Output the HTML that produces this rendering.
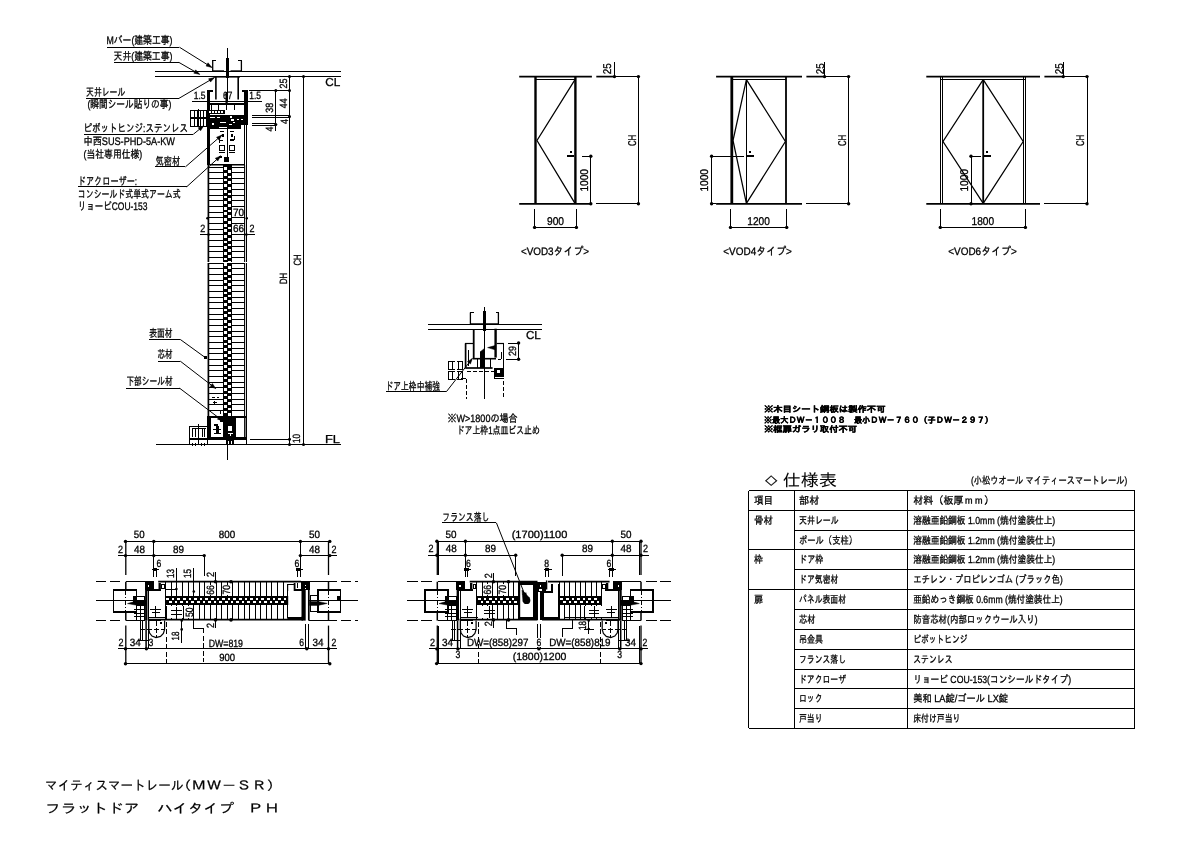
<!DOCTYPE html>
<html lang="ja">
<head>
<meta charset="utf-8">
<title>マイティスマートレール(MW-SR) フラットドア ハイタイプ PH</title>
<style>html,body{margin:0;padding:0;background:#fff}body{width:1191px;height:842px;overflow:hidden}svg{display:block;will-change:transform}</style>
</head>
<body>
<svg width="1191" height="842" viewBox="0 0 1191 842" font-family='"Liberation Sans","IPAGothic",sans-serif' fill="#000" stroke="#000" stroke-width="1" shape-rendering="crispEdges" text-rendering="geometricPrecision">
<style>text{stroke:#000;stroke-width:0.3px;fill:#000}</style>
<line x1="748.5" y1="490.6" x2="1134.5" y2="490.6" stroke-width="1"/>
<line x1="748.5" y1="728.2" x2="1134.5" y2="728.2" stroke-width="1"/>
<line x1="748.5" y1="490.6" x2="748.5" y2="728.2" stroke-width="1"/>
<line x1="1134.5" y1="490.6" x2="1134.5" y2="728.2" stroke-width="1"/>
<line x1="794.7" y1="490.6" x2="794.7" y2="728.2" stroke-width="1"/>
<line x1="907.7" y1="490.6" x2="907.7" y2="728.2" stroke-width="1"/>
<line x1="748.5" y1="510.3" x2="1134.5" y2="510.3" stroke-width="1"/>
<line x1="794.7" y1="530.3" x2="1134.5" y2="530.3" stroke-width="1"/>
<line x1="748.5" y1="549.7" x2="1134.5" y2="549.7" stroke-width="1"/>
<line x1="794.7" y1="569.4" x2="1134.5" y2="569.4" stroke-width="1"/>
<line x1="748.5" y1="589.3" x2="1134.5" y2="589.3" stroke-width="1"/>
<line x1="794.7" y1="609.2" x2="1134.5" y2="609.2" stroke-width="1"/>
<line x1="794.7" y1="629.1" x2="1134.5" y2="629.1" stroke-width="1"/>
<line x1="794.7" y1="649.4" x2="1134.5" y2="649.4" stroke-width="1"/>
<line x1="794.7" y1="669.3" x2="1134.5" y2="669.3" stroke-width="1"/>
<line x1="794.7" y1="688.7" x2="1134.5" y2="688.7" stroke-width="1"/>
<line x1="794.7" y1="708.4" x2="1134.5" y2="708.4" stroke-width="1"/>
<text x="754" y="504" font-size="10.3" textLength="19" lengthAdjust="spacingAndGlyphs">項目</text>
<text x="799" y="504" font-size="10.3" textLength="20.5" lengthAdjust="spacingAndGlyphs">部材</text>
<text x="913.2" y="504" font-size="10.3" textLength="80.8" lengthAdjust="spacingAndGlyphs">材料（板厚ｍｍ）</text>
<text x="754" y="523.7" font-size="10.3" textLength="19" lengthAdjust="spacingAndGlyphs">骨材</text>
<text x="799" y="523.7" font-size="10.3" textLength="39.7" lengthAdjust="spacingAndGlyphs">天井レール</text>
<text x="913.2" y="523.7" font-size="10.3" textLength="142.1" lengthAdjust="spacingAndGlyphs">溶融亜鉛鋼板 1.0mm (焼付塗装仕上)</text>
<text x="799" y="543.7" font-size="10.3" textLength="58" lengthAdjust="spacingAndGlyphs">ポール（支柱）</text>
<text x="913.2" y="543.7" font-size="10.3" textLength="142.1" lengthAdjust="spacingAndGlyphs">溶融亜鉛鋼板 1.2mm (焼付塗装仕上)</text>
<text x="754" y="563.1" font-size="10.3" textLength="9" lengthAdjust="spacingAndGlyphs">枠</text>
<text x="799" y="563.1" font-size="10.3" textLength="24.5" lengthAdjust="spacingAndGlyphs">ドア枠</text>
<text x="913.2" y="563.1" font-size="10.3" textLength="142.1" lengthAdjust="spacingAndGlyphs">溶融亜鉛鋼板 1.2mm (焼付塗装仕上)</text>
<text x="799" y="582.8" font-size="10.3" textLength="39.5" lengthAdjust="spacingAndGlyphs">ドア気密材</text>
<text x="913.2" y="582.8" font-size="10.3" textLength="149.5" lengthAdjust="spacingAndGlyphs">エチレン・プロピレンゴム (ブラック色)</text>
<text x="754" y="602.7" font-size="10.3" textLength="9" lengthAdjust="spacingAndGlyphs">扉</text>
<text x="799" y="602.7" font-size="10.3" textLength="47" lengthAdjust="spacingAndGlyphs">パネル表面材</text>
<text x="913.2" y="602.7" font-size="10.3" textLength="149.5" lengthAdjust="spacingAndGlyphs">亜鉛めっき鋼板 0.6mm (焼付塗装仕上)</text>
<text x="799" y="622.6" font-size="10.3" textLength="16.5" lengthAdjust="spacingAndGlyphs">芯材</text>
<text x="913.2" y="622.6" font-size="10.3" textLength="124.3" lengthAdjust="spacingAndGlyphs">防音芯材(内部ロックウール入り)</text>
<text x="799" y="642.5" font-size="10.3" textLength="24" lengthAdjust="spacingAndGlyphs">吊金具</text>
<text x="913.2" y="642.5" font-size="10.3" textLength="54.4" lengthAdjust="spacingAndGlyphs">ピボットヒンジ</text>
<text x="799" y="662.8" font-size="10.3" textLength="47" lengthAdjust="spacingAndGlyphs">フランス落し</text>
<text x="913.2" y="662.8" font-size="10.3" textLength="39.3" lengthAdjust="spacingAndGlyphs">ステンレス</text>
<text x="799" y="682.7" font-size="10.3" textLength="47" lengthAdjust="spacingAndGlyphs">ドアクローザ</text>
<text x="913.2" y="682.7" font-size="10.3" textLength="157.9" lengthAdjust="spacingAndGlyphs">リョービ COU-153(コンシールドタイプ)</text>
<text x="799" y="702.1" font-size="10.3" textLength="23.5" lengthAdjust="spacingAndGlyphs">ロック</text>
<text x="913.2" y="702.1" font-size="10.3" textLength="94.9" lengthAdjust="spacingAndGlyphs">美和 LA錠/ゴール LX錠</text>
<text x="799" y="721.8" font-size="10.3" textLength="23.5" lengthAdjust="spacingAndGlyphs">戸当り</text>
<text x="913.2" y="721.8" font-size="10.3" textLength="47.3" lengthAdjust="spacingAndGlyphs">床付け戸当り</text>
<text x="764.4" y="484.6" font-size="11.5" textLength="13.4" lengthAdjust="spacingAndGlyphs" style="stroke-width:0.2px">◇</text>
<text x="782.8" y="485.7" font-size="16.5" textLength="54.2" lengthAdjust="spacingAndGlyphs" style="stroke-width:0.05px">仕様表</text>
<text x="970.9" y="483.8" font-size="10.3" textLength="156.4" lengthAdjust="spacingAndGlyphs">(小松ウオール マイティースマートレール)</text>
<text x="763.9" y="412.2" font-size="8.2" textLength="121.7" lengthAdjust="spacingAndGlyphs" font-weight="bold">※木目シート鋼板は製作不可</text>
<text x="763.9" y="422.7" font-size="8.2" textLength="229.1" lengthAdjust="spacingAndGlyphs" font-weight="bold">※最大ＤＷ－１００８　最小ＤＷ－７６０（子ＤＷ－２９７）</text>
<text x="763.9" y="432.3" font-size="8.2" textLength="93.2" lengthAdjust="spacingAndGlyphs" font-weight="bold">※框扉ガラリ取付不可</text>
<text x="45.1" y="790.2" font-size="13" textLength="138.4" lengthAdjust="spacingAndGlyphs" style="stroke-width:0.2px">マイティスマートレール</text>
<text x="176.3" y="790.2" font-size="12.5" textLength="105.5" lengthAdjust="spacingAndGlyphs" style="stroke-width:0.2px">（ＭＷ－ＳＲ）</text>
<text x="45.1" y="813.4" font-size="13" textLength="94.4" lengthAdjust="spacingAndGlyphs" style="stroke-width:0.2px">フラットドア</text>
<text x="157.2" y="813.4" font-size="13" textLength="76.8" lengthAdjust="spacingAndGlyphs" style="stroke-width:0.2px">ハイタイプ</text>
<text x="247.3" y="813.4" font-size="12.5" textLength="32.7" lengthAdjust="spacingAndGlyphs" style="stroke-width:0.2px">ＰＨ</text>
<line x1="519.2" y1="76.6" x2="591.9" y2="76.6" stroke-width="1.7" shape-rendering="geometricPrecision"/>
<line x1="519.2" y1="203.8" x2="591.9" y2="203.8" stroke-width="1.7" shape-rendering="geometricPrecision"/>
<line x1="596.3" y1="76.6" x2="614.5" y2="76.6" stroke-width="1.7" shape-rendering="geometricPrecision"/>
<line x1="614.5" y1="76.6" x2="638.4" y2="76.6" stroke-width="1"/>
<line x1="596.3" y1="203.8" x2="638.4" y2="203.8" stroke-width="1"/>
<line x1="638.4" y1="76.6" x2="638.4" y2="203.8" stroke-width="1"/>
<circle cx="638.4" cy="76.6" r="1.7" fill="#000" stroke="none" shape-rendering="geometricPrecision"/>
<circle cx="638.4" cy="203.8" r="1.7" fill="#000" stroke="none" shape-rendering="geometricPrecision"/>
<line x1="614.5" y1="62.4" x2="614.5" y2="76.6" stroke-width="1"/>
<circle cx="614.5" cy="76.6" r="1.7" fill="#000" stroke="none" shape-rendering="geometricPrecision"/>
<text x="610.77" y="68.8" font-size="11.3" textLength="11" lengthAdjust="spacingAndGlyphs" text-anchor="middle" transform="rotate(-90 610.77 68.8)">25</text>
<text x="635.87" y="140.4" font-size="11.3" textLength="11.2" lengthAdjust="spacingAndGlyphs" text-anchor="middle" transform="rotate(-90 635.87 140.4)">CH</text>
<text x="520.9" y="255.2" font-size="10.8" textLength="68.2" lengthAdjust="spacingAndGlyphs">&lt;VOD3タイプ&gt;</text>
<line x1="535.5" y1="76.8" x2="535.5" y2="203.8" stroke-width="2.4" shape-rendering="geometricPrecision"/>
<line x1="575.4" y1="76.8" x2="575.4" y2="203.8" stroke-width="2.4" shape-rendering="geometricPrecision"/>
<line x1="535.5" y1="79.4" x2="575.4" y2="79.4" stroke-width="1"/>
<path d="M575 79.6 L537 140.5 L575 203.4" fill="none" stroke-width="1.25" shape-rendering="geometricPrecision"/>
<line x1="590.8" y1="156.3" x2="590.8" y2="203.8" stroke-width="1"/>
<line x1="582.3" y1="156.3" x2="590.8" y2="156.3" stroke-width="1"/>
<circle cx="590.8" cy="156.3" r="1.7" fill="#000" stroke="none" shape-rendering="geometricPrecision"/>
<circle cx="590.8" cy="203.8" r="1.7" fill="#000" stroke="none" shape-rendering="geometricPrecision"/>
<text x="587.87" y="180.3" font-size="11.3" textLength="22.6" lengthAdjust="spacingAndGlyphs" text-anchor="middle" transform="rotate(-90 587.87 180.3)">1000</text>
<rect x="566.6" y="155.3" width="7.4" height="2" fill="#000" stroke="none"/>
<rect x="570.4" y="151.3" width="1.8" height="1.8" fill="#000" stroke="none"/>
<line x1="534.6" y1="209" x2="534.6" y2="229" stroke-width="1"/>
<line x1="576.4" y1="209" x2="576.4" y2="229" stroke-width="1"/>
<line x1="534.6" y1="227.4" x2="576.4" y2="227.4" stroke-width="1"/>
<circle cx="534.6" cy="227.4" r="1.7" fill="#000" stroke="none" shape-rendering="geometricPrecision"/>
<circle cx="576.4" cy="227.4" r="1.7" fill="#000" stroke="none" shape-rendering="geometricPrecision"/>
<text x="546.95" y="224.8" font-size="11.3" textLength="17.1" lengthAdjust="spacingAndGlyphs">900</text>
<line x1="716.1" y1="76.6" x2="802" y2="76.6" stroke-width="1.7" shape-rendering="geometricPrecision"/>
<line x1="716.1" y1="203.8" x2="802" y2="203.8" stroke-width="1.7" shape-rendering="geometricPrecision"/>
<line x1="806.4" y1="76.6" x2="824.6" y2="76.6" stroke-width="1.7" shape-rendering="geometricPrecision"/>
<line x1="824.6" y1="76.6" x2="848.6" y2="76.6" stroke-width="1"/>
<line x1="806.4" y1="203.8" x2="848.6" y2="203.8" stroke-width="1"/>
<line x1="848.6" y1="76.6" x2="848.6" y2="203.8" stroke-width="1"/>
<circle cx="848.6" cy="76.6" r="1.7" fill="#000" stroke="none" shape-rendering="geometricPrecision"/>
<circle cx="848.6" cy="203.8" r="1.7" fill="#000" stroke="none" shape-rendering="geometricPrecision"/>
<line x1="824.6" y1="62.4" x2="824.6" y2="76.6" stroke-width="1"/>
<circle cx="824.6" cy="76.6" r="1.7" fill="#000" stroke="none" shape-rendering="geometricPrecision"/>
<text x="823.87" y="68.8" font-size="11.3" textLength="11" lengthAdjust="spacingAndGlyphs" text-anchor="middle" transform="rotate(-90 823.87 68.8)">25</text>
<text x="846.07" y="140.4" font-size="11.3" textLength="11.2" lengthAdjust="spacingAndGlyphs" text-anchor="middle" transform="rotate(-90 846.07 140.4)">CH</text>
<text x="723.3" y="255.2" font-size="10.8" textLength="68.6" lengthAdjust="spacingAndGlyphs">&lt;VOD4タイプ&gt;</text>
<line x1="731.8" y1="76.8" x2="731.8" y2="203.8" stroke-width="2.8" shape-rendering="geometricPrecision"/>
<line x1="786" y1="76.8" x2="786" y2="203.8" stroke-width="1.8" shape-rendering="geometricPrecision"/>
<line x1="746.4" y1="79.4" x2="746.4" y2="203.8" stroke-width="1"/>
<line x1="731.8" y1="79.4" x2="786" y2="79.4" stroke-width="1"/>
<path d="M746.4 79.6 L733 140.5 L746.4 203.4" fill="none" stroke-width="1.25" shape-rendering="geometricPrecision"/>
<path d="M746.4 79.6 L785.4 141.5 L746.4 203.4" fill="none" stroke-width="1.25" shape-rendering="geometricPrecision"/>
<line x1="711.6" y1="156.3" x2="711.6" y2="203.8" stroke-width="1"/>
<line x1="711.6" y1="156.3" x2="743.6" y2="156.3" stroke-width="1"/>
<line x1="711.6" y1="203.8" x2="716.1" y2="203.8" stroke-width="1"/>
<circle cx="711.6" cy="156.3" r="1.7" fill="#000" stroke="none" shape-rendering="geometricPrecision"/>
<circle cx="711.6" cy="203.8" r="1.7" fill="#000" stroke="none" shape-rendering="geometricPrecision"/>
<text x="708.47" y="180.3" font-size="11.3" textLength="22.6" lengthAdjust="spacingAndGlyphs" text-anchor="middle" transform="rotate(-90 708.47 180.3)">1000</text>
<rect x="746.4" y="155.3" width="7.4" height="2" fill="#000" stroke="none"/>
<rect x="749.3" y="151.3" width="1.8" height="1.8" fill="#000" stroke="none"/>
<line x1="730.5" y1="209" x2="730.5" y2="229" stroke-width="1"/>
<line x1="786.7" y1="209" x2="786.7" y2="229" stroke-width="1"/>
<line x1="730.5" y1="227.4" x2="786.7" y2="227.4" stroke-width="1"/>
<circle cx="730.5" cy="227.4" r="1.7" fill="#000" stroke="none" shape-rendering="geometricPrecision"/>
<circle cx="786.7" cy="227.4" r="1.7" fill="#000" stroke="none" shape-rendering="geometricPrecision"/>
<text x="747.3" y="224.8" font-size="11.3" textLength="22.6" lengthAdjust="spacingAndGlyphs">1200</text>
<line x1="926.3" y1="76.6" x2="1040" y2="76.6" stroke-width="1.7" shape-rendering="geometricPrecision"/>
<line x1="926.3" y1="203.8" x2="1040" y2="203.8" stroke-width="1.7" shape-rendering="geometricPrecision"/>
<line x1="1044.4" y1="76.6" x2="1063.3" y2="76.6" stroke-width="1.7" shape-rendering="geometricPrecision"/>
<line x1="1063.3" y1="76.6" x2="1087" y2="76.6" stroke-width="1"/>
<line x1="1044.4" y1="203.8" x2="1087" y2="203.8" stroke-width="1"/>
<line x1="1087" y1="76.6" x2="1087" y2="203.8" stroke-width="1"/>
<circle cx="1087" cy="76.6" r="1.7" fill="#000" stroke="none" shape-rendering="geometricPrecision"/>
<circle cx="1087" cy="203.8" r="1.7" fill="#000" stroke="none" shape-rendering="geometricPrecision"/>
<line x1="1063.3" y1="62.4" x2="1063.3" y2="76.6" stroke-width="1"/>
<circle cx="1063.3" cy="76.6" r="1.7" fill="#000" stroke="none" shape-rendering="geometricPrecision"/>
<text x="1062.57" y="68.8" font-size="11.3" textLength="11" lengthAdjust="spacingAndGlyphs" text-anchor="middle" transform="rotate(-90 1062.57 68.8)">25</text>
<text x="1084.47" y="140.4" font-size="11.3" textLength="11.2" lengthAdjust="spacingAndGlyphs" text-anchor="middle" transform="rotate(-90 1084.47 140.4)">CH</text>
<text x="948.2" y="255.2" font-size="10.8" textLength="68.7" lengthAdjust="spacingAndGlyphs">&lt;VOD6タイプ&gt;</text>
<line x1="940.4" y1="76.8" x2="940.4" y2="203.8" stroke-width="1"/>
<line x1="942.7" y1="76.8" x2="942.7" y2="203.8" stroke-width="1"/>
<line x1="1023.4" y1="76.8" x2="1023.4" y2="203.8" stroke-width="1"/>
<line x1="1025.6" y1="76.8" x2="1025.6" y2="203.8" stroke-width="1"/>
<line x1="983.2" y1="79.4" x2="983.2" y2="203.8" stroke-width="1.8" shape-rendering="geometricPrecision"/>
<line x1="940.4" y1="79.4" x2="1025.6" y2="79.4" stroke-width="1"/>
<path d="M983.2 79.6 L943 141.5 L983.2 203.4" fill="none" stroke-width="1.25" shape-rendering="geometricPrecision"/>
<path d="M983.2 79.6 L1023.2 141.5 L983.2 203.4" fill="none" stroke-width="1.25" shape-rendering="geometricPrecision"/>
<line x1="971" y1="156.3" x2="971" y2="203.8" stroke-width="1"/>
<line x1="971" y1="156.3" x2="981" y2="156.3" stroke-width="1"/>
<circle cx="971" cy="156.3" r="1.7" fill="#000" stroke="none" shape-rendering="geometricPrecision"/>
<circle cx="971" cy="203.8" r="1.7" fill="#000" stroke="none" shape-rendering="geometricPrecision"/>
<text x="968.47" y="180.3" font-size="11.3" textLength="22.6" lengthAdjust="spacingAndGlyphs" text-anchor="middle" transform="rotate(-90 968.47 180.3)">1000</text>
<rect x="983.4" y="155.3" width="7.4" height="2" fill="#000" stroke="none"/>
<rect x="986.3" y="151.3" width="1.8" height="1.8" fill="#000" stroke="none"/>
<line x1="940.3" y1="209" x2="940.3" y2="229" stroke-width="1"/>
<line x1="1025.4" y1="209" x2="1025.4" y2="229" stroke-width="1"/>
<line x1="940.3" y1="227.4" x2="1025.4" y2="227.4" stroke-width="1"/>
<circle cx="940.3" cy="227.4" r="1.7" fill="#000" stroke="none" shape-rendering="geometricPrecision"/>
<circle cx="1025.4" cy="227.4" r="1.7" fill="#000" stroke="none" shape-rendering="geometricPrecision"/>
<text x="971.55" y="224.8" font-size="11.3" textLength="22.6" lengthAdjust="spacingAndGlyphs">1800</text>
<line x1="155.4" y1="71.6" x2="341" y2="71.6" stroke-width="1"/>
<line x1="155.4" y1="76.4" x2="341" y2="76.4" stroke-width="1"/>
<text x="325.2" y="86.1" font-size="11.5" textLength="15" lengthAdjust="spacingAndGlyphs">CL</text>
<line x1="156.4" y1="444.4" x2="340.6" y2="444.4" stroke-width="1"/>
<text x="325" y="442.6" font-size="11.5" textLength="15" lengthAdjust="spacingAndGlyphs">FL</text>
<line x1="212.7" y1="60.7" x2="212.7" y2="71.6" stroke-width="1.3" shape-rendering="geometricPrecision"/>
<line x1="212.2" y1="60.9" x2="215.8" y2="60.9" stroke-width="1"/>
<line x1="241.4" y1="60.7" x2="241.4" y2="71.6" stroke-width="1.3" shape-rendering="geometricPrecision"/>
<line x1="238.4" y1="60.9" x2="242" y2="60.9" stroke-width="1"/>
<line x1="213" y1="70.9" x2="224" y2="70.9" stroke-width="1.2" shape-rendering="geometricPrecision"/>
<line x1="230.5" y1="70.9" x2="241.4" y2="70.9" stroke-width="1.2" shape-rendering="geometricPrecision"/>
<line x1="227.3" y1="48.3" x2="227.3" y2="101" stroke-width="1"/>
<rect x="225.6" y="57.5" width="3.4" height="20.5" fill="#000" stroke="none"/>
<line x1="215.9" y1="76.4" x2="215.9" y2="99.5" stroke-width="1.6" shape-rendering="geometricPrecision"/>
<line x1="238.2" y1="76.4" x2="238.2" y2="99.5" stroke-width="1.6" shape-rendering="geometricPrecision"/>
<line x1="214" y1="77" x2="240" y2="77" stroke-width="1.2" shape-rendering="geometricPrecision"/>
<rect x="207.2" y="90.3" width="3.2" height="75" fill="#000" stroke="none"/>
<rect x="244.2" y="90.3" width="3.6" height="34.5" fill="#000" stroke="none"/>
<rect x="207.2" y="90.3" width="5.5" height="1.4" fill="#000" stroke="none"/>
<rect x="242" y="90.3" width="5.8" height="1.4" fill="#000" stroke="none"/>
<line x1="191.8" y1="101.8" x2="261.7" y2="101.8" stroke-width="1"/>
<circle cx="208.6" cy="101.8" r="1.3" fill="#000" stroke="none" shape-rendering="geometricPrecision"/>
<circle cx="246" cy="101.8" r="1.3" fill="#000" stroke="none" shape-rendering="geometricPrecision"/>
<text x="193.7" y="99.3" font-size="10.5" textLength="11.8" lengthAdjust="spacingAndGlyphs">1.5</text>
<text x="249.3" y="99.3" font-size="10.5" textLength="11.7" lengthAdjust="spacingAndGlyphs">1.5</text>
<text x="223.1" y="99.3" font-size="10.5" textLength="9.2" lengthAdjust="spacingAndGlyphs">67</text>
<line x1="226.6" y1="92" x2="226.6" y2="103.5" stroke-width="2.2" shape-rendering="geometricPrecision"/>
<line x1="208" y1="103.5" x2="246" y2="103.5" stroke-width="1"/>
<line x1="210" y1="104.8" x2="244.5" y2="104.8" stroke-width="1"/>
<line x1="211" y1="104.8" x2="211" y2="110" stroke-width="1"/>
<line x1="218.7" y1="104.8" x2="218.7" y2="110" stroke-width="1"/>
<line x1="226.2" y1="104.8" x2="226.2" y2="110" stroke-width="1"/>
<line x1="234.2" y1="104.8" x2="234.2" y2="110" stroke-width="1"/>
<rect x="190.6" y="110.4" width="16" height="7.2" fill="none" stroke-width="1"/>
<rect x="190.6" y="118.4" width="16" height="7.6" fill="none" stroke-width="1"/>
<line x1="194.5" y1="110.4" x2="194.5" y2="126" stroke-width="1"/>
<line x1="197.5" y1="110.4" x2="197.5" y2="126" stroke-width="1"/>
<line x1="200.8" y1="110.4" x2="200.8" y2="126" stroke-width="1"/>
<line x1="203.5" y1="110.4" x2="203.5" y2="126" stroke-width="1"/>
<line x1="198.5" y1="108.5" x2="198.5" y2="127" stroke-width="1"/>
<rect x="208" y="110.2" width="16.5" height="4.2" fill="#000" stroke="none"/>
<rect x="209.3" y="111.4" width="2" height="1.5" fill="#fff" stroke="none"/>
<rect x="212.3" y="111.4" width="2" height="1.5" fill="#fff" stroke="none"/>
<rect x="215.3" y="111.4" width="2" height="1.5" fill="#fff" stroke="none"/>
<rect x="218.3" y="111.4" width="2" height="1.5" fill="#fff" stroke="none"/>
<rect x="221.3" y="111.4" width="2" height="1.5" fill="#fff" stroke="none"/>
<rect x="208" y="114.6" width="40" height="9.8" fill="#000" stroke="none"/>
<rect x="208" y="124" width="33" height="4.8" fill="#000" stroke="none"/>
<rect x="210" y="117" width="5" height="1" fill="#fff" stroke="none"/>
<rect x="216.5" y="117" width="3" height="1" fill="#fff" stroke="none"/>
<rect x="229.5" y="115.8" width="2" height="2" fill="#fff" stroke="none"/>
<rect x="231" y="119.2" width="3" height="1.4" fill="#fff" stroke="none"/>
<rect x="237.3" y="118.8" width="2" height="1.6" fill="#fff" stroke="none"/>
<rect x="240.6" y="119" width="2.6" height="1" fill="#fff" stroke="none"/>
<rect x="211.5" y="122.5" width="2.4" height="2" fill="#fff" stroke="none"/>
<rect x="215" y="125.5" width="7" height="0.9" fill="#fff" stroke="none"/>
<rect x="220" y="121.6" width="6" height="0.9" fill="#fff" stroke="none"/>
<rect x="228.5" y="124" width="3" height="1" fill="#fff" stroke="none"/>
<rect x="232.5" y="121.5" width="2" height="1.2" fill="#fff" stroke="none"/>
<rect x="219" y="127" width="8" height="0.8" fill="#fff" stroke="none"/>
<line x1="246.8" y1="124.6" x2="246.8" y2="444.4" stroke-width="1"/>
<line x1="244.2" y1="124.8" x2="244.2" y2="165" stroke-width="1"/>
<line x1="240.5" y1="124.6" x2="247" y2="124.6" stroke-width="1"/>
<line x1="227.2" y1="128" x2="227.2" y2="160" stroke-width="1"/>
<rect x="219.3" y="145.2" width="5" height="5.2" fill="none" stroke-width="1.2"/>
<rect x="229.6" y="145.2" width="5" height="5.2" fill="none" stroke-width="1.2"/>
<rect x="220" y="130.5" width="4" height="1.4" fill="#000" stroke="none"/>
<rect x="230" y="130.5" width="4" height="1.4" fill="#000" stroke="none"/>
<rect x="221.5" y="134" width="2" height="3" fill="#000" stroke="none"/>
<rect x="231" y="133.5" width="2.4" height="3" fill="#000" stroke="none"/>
<rect x="220.4" y="139.5" width="3" height="1.6" fill="#000" stroke="none"/>
<rect x="230.4" y="138.6" width="3.4" height="2.2" fill="#000" stroke="none"/>
<rect x="219" y="152.2" width="6" height="1" fill="#000" stroke="none"/>
<rect x="229" y="152.2" width="6" height="1" fill="#000" stroke="none"/>
<rect x="233.6" y="136" width="1.4" height="4" fill="#000" stroke="none"/>
<rect x="218.6" y="138" width="1.3" height="5" fill="#000" stroke="none"/>
<rect x="223.6" y="156.6" width="5.6" height="5" fill="#000" stroke="none"/>
<rect x="218.6" y="155.6" width="3.4" height="2.6" fill="#000" stroke="none"/>
<line x1="210" y1="164.7" x2="244.4" y2="164.7" stroke-width="1.4" shape-rendering="geometricPrecision"/>
<line x1="208.4" y1="165" x2="208.4" y2="417" stroke-width="1.7" shape-rendering="geometricPrecision"/>
<line x1="244.6" y1="165" x2="244.6" y2="417" stroke-width="1.1" shape-rendering="geometricPrecision"/>
<line x1="209" y1="167" x2="244.6" y2="167" stroke-width="1"/>
<line x1="209" y1="172.66" x2="244.6" y2="172.66" stroke-width="1"/>
<line x1="209" y1="178.32" x2="244.6" y2="178.32" stroke-width="1"/>
<line x1="209" y1="183.98" x2="244.6" y2="183.98" stroke-width="1"/>
<line x1="209" y1="189.64" x2="244.6" y2="189.64" stroke-width="1"/>
<line x1="209" y1="195.3" x2="244.6" y2="195.3" stroke-width="1"/>
<line x1="209" y1="200.96" x2="244.6" y2="200.96" stroke-width="1"/>
<line x1="209" y1="206.62" x2="244.6" y2="206.62" stroke-width="1"/>
<line x1="209" y1="212.28" x2="244.6" y2="212.28" stroke-width="1"/>
<line x1="209" y1="217.94" x2="244.6" y2="217.94" stroke-width="1"/>
<line x1="209" y1="223.6" x2="244.6" y2="223.6" stroke-width="1"/>
<line x1="209" y1="229.26" x2="244.6" y2="229.26" stroke-width="1"/>
<line x1="209" y1="234.92" x2="244.6" y2="234.92" stroke-width="1"/>
<line x1="209" y1="240.58" x2="244.6" y2="240.58" stroke-width="1"/>
<line x1="209" y1="246.24" x2="244.6" y2="246.24" stroke-width="1"/>
<line x1="209" y1="251.9" x2="244.6" y2="251.9" stroke-width="1"/>
<line x1="209" y1="257.56" x2="244.6" y2="257.56" stroke-width="1"/>
<line x1="209" y1="263.22" x2="244.6" y2="263.22" stroke-width="1"/>
<line x1="209" y1="268.88" x2="244.6" y2="268.88" stroke-width="1"/>
<line x1="209" y1="274.54" x2="244.6" y2="274.54" stroke-width="1"/>
<line x1="209" y1="280.2" x2="244.6" y2="280.2" stroke-width="1"/>
<line x1="209" y1="285.86" x2="244.6" y2="285.86" stroke-width="1"/>
<line x1="209" y1="291.52" x2="244.6" y2="291.52" stroke-width="1"/>
<line x1="209" y1="297.18" x2="244.6" y2="297.18" stroke-width="1"/>
<line x1="209" y1="302.84" x2="244.6" y2="302.84" stroke-width="1"/>
<line x1="209" y1="308.5" x2="244.6" y2="308.5" stroke-width="1"/>
<line x1="209" y1="314.16" x2="244.6" y2="314.16" stroke-width="1"/>
<line x1="209" y1="319.82" x2="244.6" y2="319.82" stroke-width="1"/>
<line x1="209" y1="325.48" x2="244.6" y2="325.48" stroke-width="1"/>
<line x1="209" y1="331.14" x2="244.6" y2="331.14" stroke-width="1"/>
<line x1="209" y1="336.8" x2="244.6" y2="336.8" stroke-width="1"/>
<line x1="209" y1="342.46" x2="244.6" y2="342.46" stroke-width="1"/>
<line x1="209" y1="348.12" x2="244.6" y2="348.12" stroke-width="1"/>
<line x1="209" y1="353.78" x2="244.6" y2="353.78" stroke-width="1"/>
<line x1="209" y1="359.44" x2="244.6" y2="359.44" stroke-width="1"/>
<line x1="209" y1="365.1" x2="244.6" y2="365.1" stroke-width="1"/>
<line x1="209" y1="370.76" x2="244.6" y2="370.76" stroke-width="1"/>
<line x1="209" y1="376.42" x2="244.6" y2="376.42" stroke-width="1"/>
<line x1="209" y1="382.08" x2="244.6" y2="382.08" stroke-width="1"/>
<line x1="209" y1="387.74" x2="244.6" y2="387.74" stroke-width="1"/>
<line x1="209" y1="393.4" x2="244.6" y2="393.4" stroke-width="1"/>
<line x1="209" y1="399.06" x2="244.6" y2="399.06" stroke-width="1"/>
<line x1="209" y1="404.72" x2="244.6" y2="404.72" stroke-width="1"/>
<line x1="209" y1="410.38" x2="244.6" y2="410.38" stroke-width="1"/>
<rect x="222.6" y="165.4" width="9.4" height="252" fill="#000" stroke="none"/>
<rect x="223.8" y="167.2" width="2.7" height="2.7" fill="#fff" stroke="none"/>
<rect x="228.1" y="170" width="2.7" height="2.7" fill="#fff" stroke="none"/>
<rect x="223.8" y="172.86" width="2.7" height="2.7" fill="#fff" stroke="none"/>
<rect x="228.1" y="175.66" width="2.7" height="2.7" fill="#fff" stroke="none"/>
<rect x="223.8" y="178.52" width="2.7" height="2.7" fill="#fff" stroke="none"/>
<rect x="228.1" y="181.32" width="2.7" height="2.7" fill="#fff" stroke="none"/>
<rect x="223.8" y="184.18" width="2.7" height="2.7" fill="#fff" stroke="none"/>
<rect x="228.1" y="186.98" width="2.7" height="2.7" fill="#fff" stroke="none"/>
<rect x="223.8" y="189.84" width="2.7" height="2.7" fill="#fff" stroke="none"/>
<rect x="228.1" y="192.64" width="2.7" height="2.7" fill="#fff" stroke="none"/>
<rect x="223.8" y="195.5" width="2.7" height="2.7" fill="#fff" stroke="none"/>
<rect x="228.1" y="198.3" width="2.7" height="2.7" fill="#fff" stroke="none"/>
<rect x="223.8" y="201.16" width="2.7" height="2.7" fill="#fff" stroke="none"/>
<rect x="228.1" y="203.96" width="2.7" height="2.7" fill="#fff" stroke="none"/>
<rect x="223.8" y="206.82" width="2.7" height="2.7" fill="#fff" stroke="none"/>
<rect x="228.1" y="209.62" width="2.7" height="2.7" fill="#fff" stroke="none"/>
<rect x="223.8" y="212.48" width="2.7" height="2.7" fill="#fff" stroke="none"/>
<rect x="228.1" y="215.28" width="2.7" height="2.7" fill="#fff" stroke="none"/>
<rect x="223.8" y="218.14" width="2.7" height="2.7" fill="#fff" stroke="none"/>
<rect x="228.1" y="220.94" width="2.7" height="2.7" fill="#fff" stroke="none"/>
<rect x="223.8" y="223.8" width="2.7" height="2.7" fill="#fff" stroke="none"/>
<rect x="228.1" y="226.6" width="2.7" height="2.7" fill="#fff" stroke="none"/>
<rect x="223.8" y="229.46" width="2.7" height="2.7" fill="#fff" stroke="none"/>
<rect x="228.1" y="232.26" width="2.7" height="2.7" fill="#fff" stroke="none"/>
<rect x="223.8" y="235.12" width="2.7" height="2.7" fill="#fff" stroke="none"/>
<rect x="228.1" y="237.92" width="2.7" height="2.7" fill="#fff" stroke="none"/>
<rect x="223.8" y="240.78" width="2.7" height="2.7" fill="#fff" stroke="none"/>
<rect x="228.1" y="243.58" width="2.7" height="2.7" fill="#fff" stroke="none"/>
<rect x="223.8" y="246.44" width="2.7" height="2.7" fill="#fff" stroke="none"/>
<rect x="228.1" y="249.24" width="2.7" height="2.7" fill="#fff" stroke="none"/>
<rect x="223.8" y="252.1" width="2.7" height="2.7" fill="#fff" stroke="none"/>
<rect x="228.1" y="254.9" width="2.7" height="2.7" fill="#fff" stroke="none"/>
<rect x="223.8" y="257.76" width="2.7" height="2.7" fill="#fff" stroke="none"/>
<rect x="228.1" y="260.56" width="2.7" height="2.7" fill="#fff" stroke="none"/>
<rect x="223.8" y="263.42" width="2.7" height="2.7" fill="#fff" stroke="none"/>
<rect x="228.1" y="266.22" width="2.7" height="2.7" fill="#fff" stroke="none"/>
<rect x="223.8" y="269.08" width="2.7" height="2.7" fill="#fff" stroke="none"/>
<rect x="228.1" y="271.88" width="2.7" height="2.7" fill="#fff" stroke="none"/>
<rect x="223.8" y="274.74" width="2.7" height="2.7" fill="#fff" stroke="none"/>
<rect x="228.1" y="277.54" width="2.7" height="2.7" fill="#fff" stroke="none"/>
<rect x="223.8" y="280.4" width="2.7" height="2.7" fill="#fff" stroke="none"/>
<rect x="228.1" y="283.2" width="2.7" height="2.7" fill="#fff" stroke="none"/>
<rect x="223.8" y="286.06" width="2.7" height="2.7" fill="#fff" stroke="none"/>
<rect x="228.1" y="288.86" width="2.7" height="2.7" fill="#fff" stroke="none"/>
<rect x="223.8" y="291.72" width="2.7" height="2.7" fill="#fff" stroke="none"/>
<rect x="228.1" y="294.52" width="2.7" height="2.7" fill="#fff" stroke="none"/>
<rect x="223.8" y="297.38" width="2.7" height="2.7" fill="#fff" stroke="none"/>
<rect x="228.1" y="300.18" width="2.7" height="2.7" fill="#fff" stroke="none"/>
<rect x="223.8" y="303.04" width="2.7" height="2.7" fill="#fff" stroke="none"/>
<rect x="228.1" y="305.84" width="2.7" height="2.7" fill="#fff" stroke="none"/>
<rect x="223.8" y="308.7" width="2.7" height="2.7" fill="#fff" stroke="none"/>
<rect x="228.1" y="311.5" width="2.7" height="2.7" fill="#fff" stroke="none"/>
<rect x="223.8" y="314.36" width="2.7" height="2.7" fill="#fff" stroke="none"/>
<rect x="228.1" y="317.16" width="2.7" height="2.7" fill="#fff" stroke="none"/>
<rect x="223.8" y="320.02" width="2.7" height="2.7" fill="#fff" stroke="none"/>
<rect x="228.1" y="322.82" width="2.7" height="2.7" fill="#fff" stroke="none"/>
<rect x="223.8" y="325.68" width="2.7" height="2.7" fill="#fff" stroke="none"/>
<rect x="228.1" y="328.48" width="2.7" height="2.7" fill="#fff" stroke="none"/>
<rect x="223.8" y="331.34" width="2.7" height="2.7" fill="#fff" stroke="none"/>
<rect x="228.1" y="334.14" width="2.7" height="2.7" fill="#fff" stroke="none"/>
<rect x="223.8" y="337" width="2.7" height="2.7" fill="#fff" stroke="none"/>
<rect x="228.1" y="339.8" width="2.7" height="2.7" fill="#fff" stroke="none"/>
<rect x="223.8" y="342.66" width="2.7" height="2.7" fill="#fff" stroke="none"/>
<rect x="228.1" y="345.46" width="2.7" height="2.7" fill="#fff" stroke="none"/>
<rect x="223.8" y="348.32" width="2.7" height="2.7" fill="#fff" stroke="none"/>
<rect x="228.1" y="351.12" width="2.7" height="2.7" fill="#fff" stroke="none"/>
<rect x="223.8" y="353.98" width="2.7" height="2.7" fill="#fff" stroke="none"/>
<rect x="228.1" y="356.78" width="2.7" height="2.7" fill="#fff" stroke="none"/>
<rect x="223.8" y="359.64" width="2.7" height="2.7" fill="#fff" stroke="none"/>
<rect x="228.1" y="362.44" width="2.7" height="2.7" fill="#fff" stroke="none"/>
<rect x="223.8" y="365.3" width="2.7" height="2.7" fill="#fff" stroke="none"/>
<rect x="228.1" y="368.1" width="2.7" height="2.7" fill="#fff" stroke="none"/>
<rect x="223.8" y="370.96" width="2.7" height="2.7" fill="#fff" stroke="none"/>
<rect x="228.1" y="373.76" width="2.7" height="2.7" fill="#fff" stroke="none"/>
<rect x="223.8" y="376.62" width="2.7" height="2.7" fill="#fff" stroke="none"/>
<rect x="228.1" y="379.42" width="2.7" height="2.7" fill="#fff" stroke="none"/>
<rect x="223.8" y="382.28" width="2.7" height="2.7" fill="#fff" stroke="none"/>
<rect x="228.1" y="385.08" width="2.7" height="2.7" fill="#fff" stroke="none"/>
<rect x="223.8" y="387.94" width="2.7" height="2.7" fill="#fff" stroke="none"/>
<rect x="228.1" y="390.74" width="2.7" height="2.7" fill="#fff" stroke="none"/>
<rect x="223.8" y="393.6" width="2.7" height="2.7" fill="#fff" stroke="none"/>
<rect x="228.1" y="396.4" width="2.7" height="2.7" fill="#fff" stroke="none"/>
<rect x="223.8" y="399.26" width="2.7" height="2.7" fill="#fff" stroke="none"/>
<rect x="228.1" y="402.06" width="2.7" height="2.7" fill="#fff" stroke="none"/>
<rect x="223.8" y="404.92" width="2.7" height="2.7" fill="#fff" stroke="none"/>
<rect x="228.1" y="407.72" width="2.7" height="2.7" fill="#fff" stroke="none"/>
<rect x="223.8" y="410.58" width="2.7" height="2.7" fill="#fff" stroke="none"/>
<rect x="228.1" y="413.38" width="2.7" height="2.7" fill="#fff" stroke="none"/>
<rect x="206" y="261.6" width="43" height="1.1" fill="#fff" stroke="none"/>
<rect x="232.4" y="208.4" width="11.6" height="8.6" fill="#fff" stroke="none"/>
<text x="232.9" y="216.3" font-size="10.5" textLength="11.1" lengthAdjust="spacingAndGlyphs">70</text>
<rect x="232.4" y="224.2" width="11.6" height="8.6" fill="#fff" stroke="none"/>
<text x="232.9" y="232" font-size="10.5" textLength="11.1" lengthAdjust="spacingAndGlyphs">66</text>
<circle cx="207.4" cy="218.2" r="1.2" fill="#000" stroke="none" shape-rendering="geometricPrecision"/>
<circle cx="246.8" cy="218.2" r="1.2" fill="#000" stroke="none" shape-rendering="geometricPrecision"/>
<line x1="199.6" y1="234.6" x2="208" y2="234.6" stroke-width="1"/>
<line x1="245" y1="234.6" x2="254.8" y2="234.6" stroke-width="1"/>
<circle cx="208.6" cy="234.6" r="1.3" fill="#000" stroke="none" shape-rendering="geometricPrecision"/>
<circle cx="246.4" cy="234.6" r="1.3" fill="#000" stroke="none" shape-rendering="geometricPrecision"/>
<text x="200.3" y="232" font-size="10.5" textLength="5" lengthAdjust="spacingAndGlyphs">2</text>
<text x="249.6" y="232" font-size="10.5" textLength="5" lengthAdjust="spacingAndGlyphs">2</text>
<line x1="212" y1="397.4" x2="219" y2="397.4" stroke-width="1" stroke-dasharray="3 1.5"/>
<line x1="213" y1="402.5" x2="216.6" y2="402.5" stroke-width="1"/>
<line x1="214.7" y1="400.8" x2="214.7" y2="404.4" stroke-width="1"/>
<line x1="220.5" y1="410" x2="220.5" y2="414" stroke-width="1"/>
<rect x="207.3" y="416.2" width="38.2" height="1.7" fill="#000" stroke="none"/>
<rect x="207.3" y="416.2" width="3.7" height="23.3" fill="#000" stroke="none"/>
<rect x="207.3" y="437" width="38.2" height="2.5" fill="#000" stroke="none"/>
<line x1="244.8" y1="416.2" x2="244.8" y2="439.5" stroke-width="1.4" shape-rendering="geometricPrecision"/>
<rect x="222.7" y="416.2" width="12.9" height="23.3" fill="#000" stroke="none"/>
<rect x="228.1" y="426" width="4.3" height="4.7" fill="#fff" stroke="none"/>
<rect x="228.4" y="433" width="4.6" height="0.9" fill="#fff" stroke="none"/>
<rect x="230.2" y="433" width="0.9" height="3" fill="#fff" stroke="none"/>
<rect x="214.4" y="424" width="3.2" height="2.4" fill="#000" stroke="none"/>
<rect x="215.6" y="425.6" width="3.4" height="7" fill="#000" stroke="none"/>
<rect x="213" y="428.8" width="8" height="1.1" fill="#000" stroke="none"/>
<rect x="214" y="432.6" width="6.6" height="1.1" fill="#000" stroke="none"/>
<rect x="220.4" y="418" width="2.4" height="3.6" fill="#000" stroke="none"/>
<rect x="218.6" y="419" width="2" height="1.4" fill="#000" stroke="none"/>
<line x1="227.6" y1="439.5" x2="227.6" y2="460" stroke-width="1"/>
<rect x="226.3" y="439.5" width="7.5" height="4.9" fill="#000" stroke="none"/>
<rect x="228.2" y="440.6" width="1.2" height="3" fill="#fff" stroke="none"/>
<rect x="231" y="440.6" width="1.2" height="3" fill="#fff" stroke="none"/>
<rect x="189.3" y="426.4" width="18" height="18" fill="none" stroke-width="1"/>
<line x1="189.3" y1="438.4" x2="207.3" y2="438.4" stroke-width="1"/>
<line x1="189.3" y1="439.6" x2="207.3" y2="439.6" stroke-width="1"/>
<line x1="192.8" y1="428.5" x2="192.8" y2="437.2" stroke-width="1"/>
<line x1="195.3" y1="428.5" x2="195.3" y2="437.2" stroke-width="1"/>
<line x1="202.4" y1="428.5" x2="202.4" y2="437.2" stroke-width="1"/>
<line x1="204.6" y1="428.5" x2="204.6" y2="437.2" stroke-width="1"/>
<line x1="191.6" y1="428.8" x2="206" y2="428.8" stroke-width="1"/>
<line x1="198.7" y1="424.2" x2="198.7" y2="444.4" stroke-width="1"/>
<line x1="192.2" y1="443.4" x2="192.2" y2="446" stroke-width="1"/>
<line x1="195" y1="443.4" x2="195" y2="446" stroke-width="1"/>
<line x1="201.8" y1="443.4" x2="201.8" y2="446" stroke-width="1"/>
<line x1="204" y1="443.4" x2="204" y2="446" stroke-width="1"/>
<line x1="289.5" y1="76.4" x2="289.5" y2="444.4" stroke-width="1"/>
<line x1="303.5" y1="76.4" x2="303.5" y2="444.4" stroke-width="1"/>
<line x1="275.8" y1="90.4" x2="275.8" y2="131.3" stroke-width="1"/>
<line x1="249.3" y1="90.4" x2="289.5" y2="90.4" stroke-width="1"/>
<line x1="251.9" y1="115.6" x2="289.5" y2="115.6" stroke-width="1"/>
<line x1="251.9" y1="117.4" x2="289.5" y2="117.4" stroke-width="1"/>
<line x1="251.9" y1="123.5" x2="275.8" y2="123.5" stroke-width="1"/>
<line x1="251.9" y1="125.4" x2="275.8" y2="125.4" stroke-width="1"/>
<line x1="250.3" y1="439.3" x2="289.5" y2="439.3" stroke-width="1"/>
<circle cx="289.5" cy="76.4" r="1.5" fill="#000" stroke="none" shape-rendering="geometricPrecision"/>
<circle cx="303.5" cy="76.4" r="1.5" fill="#000" stroke="none" shape-rendering="geometricPrecision"/>
<circle cx="289.5" cy="90.4" r="1.5" fill="#000" stroke="none" shape-rendering="geometricPrecision"/>
<circle cx="275.8" cy="90.4" r="1.5" fill="#000" stroke="none" shape-rendering="geometricPrecision"/>
<circle cx="289.5" cy="116.5" r="1.5" fill="#000" stroke="none" shape-rendering="geometricPrecision"/>
<circle cx="275.8" cy="124.5" r="1.5" fill="#000" stroke="none" shape-rendering="geometricPrecision"/>
<circle cx="289.5" cy="439.3" r="1.5" fill="#000" stroke="none" shape-rendering="geometricPrecision"/>
<circle cx="289.5" cy="444.4" r="1.5" fill="#000" stroke="none" shape-rendering="geometricPrecision"/>
<circle cx="303.5" cy="444.4" r="1.5" fill="#000" stroke="none" shape-rendering="geometricPrecision"/>
<text x="287.18" y="83.6" font-size="10.5" textLength="10" lengthAdjust="spacingAndGlyphs" text-anchor="middle" transform="rotate(-90 287.18 83.6)">25</text>
<text x="287.38" y="103.2" font-size="10.5" textLength="10" lengthAdjust="spacingAndGlyphs" text-anchor="middle" transform="rotate(-90 287.38 103.2)">44</text>
<text x="273.08" y="107.8" font-size="10.5" textLength="10" lengthAdjust="spacingAndGlyphs" text-anchor="middle" transform="rotate(-90 273.08 107.8)">38</text>
<text x="288.18" y="121.5" font-size="10.5" textLength="5" lengthAdjust="spacingAndGlyphs" text-anchor="middle" transform="rotate(-90 288.18 121.5)">4</text>
<text x="272.78" y="129" font-size="10.5" textLength="5" lengthAdjust="spacingAndGlyphs" text-anchor="middle" transform="rotate(-90 272.78 129)">4</text>
<text x="287.28" y="278.6" font-size="10.5" textLength="11" lengthAdjust="spacingAndGlyphs" text-anchor="middle" transform="rotate(-90 287.28 278.6)">DH</text>
<text x="300.98" y="260" font-size="10.5" textLength="11" lengthAdjust="spacingAndGlyphs" text-anchor="middle" transform="rotate(-90 300.98 260)">CH</text>
<text x="299.58" y="438.6" font-size="10.5" textLength="9" lengthAdjust="spacingAndGlyphs" text-anchor="middle" transform="rotate(-90 299.58 438.6)">10</text>
<text x="106.5" y="44.4" font-size="11" textLength="65.9" lengthAdjust="spacingAndGlyphs">Mバー(建築工事)</text>
<line x1="106.5" y1="47.2" x2="179.4" y2="47.2" stroke-width="1"/>
<line x1="179.4" y1="47.2" x2="211.8" y2="67.4" stroke-width="1" shape-rendering="geometricPrecision"/>
<path d="M211.8 67.4 L206.04 66.05 L208.05 62.82 Z" fill="#000" stroke-width="0.5" shape-rendering="geometricPrecision"/>
<text x="113.6" y="59.8" font-size="11" textLength="58.8" lengthAdjust="spacingAndGlyphs">天井(建築工事)</text>
<line x1="113.6" y1="62.4" x2="178.9" y2="62.4" stroke-width="1"/>
<line x1="178.9" y1="62.4" x2="199.6" y2="74.3" stroke-width="1" shape-rendering="geometricPrecision"/>
<path d="M199.6 74.3 L193.8 73.16 L195.69 69.86 Z" fill="#000" stroke-width="0.5" shape-rendering="geometricPrecision"/>
<text x="86.1" y="95.9" font-size="11" textLength="39.2" lengthAdjust="spacingAndGlyphs">天井レール</text>
<line x1="86.1" y1="98.4" x2="178.9" y2="98.4" stroke-width="1"/>
<line x1="178.9" y1="98.4" x2="214.4" y2="77.6" stroke-width="1" shape-rendering="geometricPrecision"/>
<path d="M214.4 77.6 L210.53 82.07 L208.61 78.79 Z" fill="#000" stroke-width="0.5" shape-rendering="geometricPrecision"/>
<text x="87.4" y="107.9" font-size="11" textLength="84" lengthAdjust="spacingAndGlyphs">(瞬間シール貼りの事)</text>
<text x="83.5" y="132.4" font-size="11" textLength="104.5" lengthAdjust="spacingAndGlyphs">ピボットヒンジ:ステンレス</text>
<line x1="83.5" y1="134.3" x2="193.3" y2="134.3" stroke-width="1"/>
<line x1="193.3" y1="134.3" x2="203.7" y2="125.8" stroke-width="1" shape-rendering="geometricPrecision"/>
<path d="M203.7 125.8 L200.57 130.82 L198.16 127.87 Z" fill="#000" stroke-width="0.5" shape-rendering="geometricPrecision"/>
<text x="83.5" y="145.4" font-size="11" textLength="91.5" lengthAdjust="spacingAndGlyphs">中西SUS-PHD-5A-KW</text>
<text x="83.5" y="158" font-size="11" textLength="58.8" lengthAdjust="spacingAndGlyphs">(当社専用仕様)</text>
<text x="155.4" y="164.5" font-size="11" textLength="24.8" lengthAdjust="spacingAndGlyphs">気密材</text>
<line x1="155.4" y1="166.9" x2="185.4" y2="166.9" stroke-width="1"/>
<line x1="185.4" y1="166.9" x2="222" y2="135" stroke-width="1" shape-rendering="geometricPrecision"/>
<path d="M222 135 L219.03 140.11 L216.53 137.25 Z" fill="#000" stroke-width="0.5" shape-rendering="geometricPrecision"/>
<text x="77.8" y="184.6" font-size="11" textLength="59.3" lengthAdjust="spacingAndGlyphs">ドアクローザー:</text>
<line x1="77.8" y1="186.8" x2="186.7" y2="186.8" stroke-width="1"/>
<line x1="186.7" y1="186.8" x2="220.7" y2="155.9" stroke-width="1" shape-rendering="geometricPrecision"/>
<path d="M220.7 155.9 L217.83 161.07 L215.28 158.26 Z" fill="#000" stroke-width="0.5" shape-rendering="geometricPrecision"/>
<text x="77.8" y="197.7" font-size="11" textLength="102.9" lengthAdjust="spacingAndGlyphs">コンシールド式単式アーム式</text>
<text x="77.8" y="210.2" font-size="11" textLength="69.7" lengthAdjust="spacingAndGlyphs">リョービCOU-153</text>
<text x="149.3" y="337.1" font-size="11" textLength="23.3" lengthAdjust="spacingAndGlyphs">表面材</text>
<line x1="149.3" y1="339.4" x2="180.2" y2="339.4" stroke-width="1"/>
<line x1="180.2" y1="339.4" x2="205.6" y2="357.8" stroke-width="1" shape-rendering="geometricPrecision"/>
<rect x="204" y="356.4" width="3" height="3" fill="#000" stroke="none"/>
<text x="157.5" y="358.4" font-size="11" textLength="15.1" lengthAdjust="spacingAndGlyphs">芯材</text>
<line x1="157.5" y1="361.1" x2="180.2" y2="361.1" stroke-width="1"/>
<line x1="180.2" y1="361.1" x2="215.7" y2="388.5" stroke-width="1" shape-rendering="geometricPrecision"/>
<path d="M215.7 388.5 L210.11 386.58 L212.43 383.57 Z" fill="#000" stroke-width="0.5" shape-rendering="geometricPrecision"/>
<text x="126.4" y="385.2" font-size="11" textLength="46.2" lengthAdjust="spacingAndGlyphs">下部シール材</text>
<line x1="126.4" y1="388.2" x2="179.6" y2="388.2" stroke-width="1"/>
<line x1="179.6" y1="388.2" x2="223" y2="421" stroke-width="1" shape-rendering="geometricPrecision"/>
<path d="M223 421 L217.39 419.14 L219.68 416.11 Z" fill="#000" stroke-width="0.5" shape-rendering="geometricPrecision"/>
<line x1="428.4" y1="324.6" x2="542.2" y2="324.6" stroke-width="1"/>
<line x1="428.4" y1="329.6" x2="542.2" y2="329.6" stroke-width="1"/>
<text x="525.9" y="339.2" font-size="11.5" textLength="14.8" lengthAdjust="spacingAndGlyphs">CL</text>
<line x1="470.4" y1="312.5" x2="470.4" y2="324.6" stroke-width="1.3" shape-rendering="geometricPrecision"/>
<line x1="470" y1="312.8" x2="474" y2="312.8" stroke-width="1"/>
<line x1="498.4" y1="312.5" x2="498.4" y2="324.6" stroke-width="1.3" shape-rendering="geometricPrecision"/>
<line x1="495.6" y1="312.8" x2="499" y2="312.8" stroke-width="1"/>
<line x1="470.4" y1="323.9" x2="498.4" y2="323.9" stroke-width="1.3" shape-rendering="geometricPrecision"/>
<line x1="484.6" y1="307.2" x2="484.6" y2="399" stroke-width="1"/>
<rect x="482.8" y="310.6" width="3.6" height="20.6" fill="#000" stroke="none"/>
<line x1="473.7" y1="329.6" x2="473.7" y2="358.6" stroke-width="1.8" shape-rendering="geometricPrecision"/>
<line x1="495.6" y1="328.7" x2="495.6" y2="357.6" stroke-width="2.4" shape-rendering="geometricPrecision"/>
<line x1="465.6" y1="343.4" x2="465.6" y2="368.6" stroke-width="1.7" shape-rendering="geometricPrecision"/>
<line x1="465" y1="343.5" x2="473" y2="343.5" stroke-width="1.2" shape-rendering="geometricPrecision"/>
<line x1="468" y1="350" x2="468" y2="366" stroke-width="1"/>
<line x1="503.6" y1="343.4" x2="503.6" y2="377.3" stroke-width="1"/>
<line x1="496.7" y1="343.5" x2="504" y2="343.5" stroke-width="1.2" shape-rendering="geometricPrecision"/>
<line x1="501.1" y1="351.7" x2="501.1" y2="359.2" stroke-width="1"/>
<line x1="498" y1="359.2" x2="501.4" y2="359.2" stroke-width="1"/>
<line x1="473" y1="358.7" x2="496" y2="358.7" stroke-width="1.6" shape-rendering="geometricPrecision"/>
<line x1="465.6" y1="368" x2="492.6" y2="368" stroke-width="1.7" shape-rendering="geometricPrecision"/>
<rect x="479.9" y="351.7" width="4.6" height="16.6" fill="#000" stroke="none"/>
<path d="M480 352 L484.4 348.5 L484.4 352 Z" fill="#000" stroke-width="0.5" shape-rendering="geometricPrecision"/>
<line x1="477.4" y1="358.6" x2="477.4" y2="368" stroke-width="1"/>
<line x1="490.5" y1="358.6" x2="490.5" y2="368" stroke-width="1"/>
<path d="M487.6 347.6 L495 345.6 L495 349.8 Z" fill="#000" stroke-width="0.5" shape-rendering="geometricPrecision"/>
<rect x="494.2" y="368" width="9.8" height="8.8" fill="#000" stroke="none"/>
<rect x="496.8" y="370.4" width="3.2" height="2.2" fill="#fff" stroke="none"/>
<line x1="494.2" y1="368" x2="494.2" y2="378.6" stroke-width="1"/>
<line x1="494.2" y1="378.6" x2="503.8" y2="378.6" stroke-width="1"/>
<line x1="518.6" y1="343" x2="518.6" y2="359.2" stroke-width="1"/>
<line x1="506.1" y1="359.2" x2="518.6" y2="359.2" stroke-width="1"/>
<line x1="508" y1="343" x2="518.6" y2="343" stroke-width="1"/>
<circle cx="518.6" cy="343" r="1.7" fill="#000" stroke="none" shape-rendering="geometricPrecision"/>
<circle cx="518.6" cy="359.2" r="1.7" fill="#000" stroke="none" shape-rendering="geometricPrecision"/>
<text x="515.78" y="350.9" font-size="10.5" textLength="10" lengthAdjust="spacingAndGlyphs" text-anchor="middle" transform="rotate(-90 515.78 350.9)">29</text>
<line x1="466.8" y1="371.3" x2="493.6" y2="371.3" stroke-width="1" stroke-dasharray="4 2"/>
<line x1="466.4" y1="378.6" x2="466.4" y2="399" stroke-width="1" stroke-dasharray="4 2"/>
<line x1="503.6" y1="381" x2="503.6" y2="399" stroke-width="1" stroke-dasharray="4 2"/>
<line x1="461" y1="378.8" x2="466.4" y2="378.8" stroke-width="1"/>
<rect x="448.6" y="361.8" width="14.2" height="7.4" fill="none" stroke-width="1"/>
<rect x="448.6" y="371.2" width="14.2" height="8.6" fill="none" stroke-width="1"/>
<line x1="452.5" y1="360.5" x2="452.5" y2="380" stroke-width="1"/>
<line x1="458.7" y1="360.5" x2="458.7" y2="380" stroke-width="1"/>
<rect x="455" y="360" width="2" height="22" fill="#fff" stroke="none"/>
<rect x="446" y="369.8" width="18" height="1" fill="#fff" stroke="none"/>
<text x="385.5" y="389.6" font-size="11" textLength="54.5" lengthAdjust="spacingAndGlyphs">ドア上枠中補強</text>
<line x1="385.5" y1="391.8" x2="446.3" y2="391.8" stroke-width="1"/>
<line x1="446.3" y1="391.8" x2="472.4" y2="358.4" stroke-width="1" shape-rendering="geometricPrecision"/>
<path d="M472.4 358.4 L470.45 363.98 L467.45 361.64 Z" fill="#000" stroke-width="0.5" shape-rendering="geometricPrecision"/>
<text x="447.4" y="421.9" font-size="10.6" textLength="70.2" lengthAdjust="spacingAndGlyphs">※W&gt;1800の場合</text>
<text x="456.7" y="433.9" font-size="10.6" textLength="83.1" lengthAdjust="spacingAndGlyphs">ドア上枠1点皿ビス止め</text>
<rect x="113.7" y="589.9" width="22.6" height="22.1" fill="none" stroke-width="1.6"/>
<line x1="125.8" y1="541.4" x2="125.8" y2="575" stroke-width="1.3" shape-rendering="geometricPrecision"/>
<line x1="125.8" y1="581.7" x2="125.8" y2="590" stroke-width="1.5" shape-rendering="geometricPrecision"/>
<line x1="125.8" y1="612" x2="125.8" y2="620.6" stroke-width="1.5" shape-rendering="geometricPrecision"/>
<line x1="125.8" y1="590" x2="125.8" y2="612" stroke-width="1" stroke-dasharray="5 2 1 2"/>
<line x1="125.8" y1="625.6" x2="125.8" y2="663.8" stroke-width="1.3" shape-rendering="geometricPrecision"/>
<line x1="95.9" y1="581.7" x2="123" y2="581.7" stroke-width="1" stroke-dasharray="10.5 3.5"/>
<line x1="126" y1="581.7" x2="145" y2="581.7" stroke-width="1"/>
<line x1="95.9" y1="620.6" x2="123" y2="620.6" stroke-width="1" stroke-dasharray="10.5 3.5"/>
<line x1="126" y1="620.6" x2="145" y2="620.6" stroke-width="1"/>
<line x1="95.9" y1="600.8" x2="146" y2="600.8" stroke-width="1"/>
<rect x="136.4" y="596" width="8.4" height="7" fill="none" stroke-width="1"/>
<rect x="133" y="596" width="4.4" height="7" fill="#000" stroke="none"/>
<path d="M127.5 603.6 L138 600.6 L146 600.6 L146 605.4 L138 605.4 Z" fill="#000" stroke-width="0.5" shape-rendering="geometricPrecision"/>
<rect x="136.4" y="605.4" width="8.4" height="14.6" fill="none" stroke-width="1"/>
<line x1="133.5" y1="609.5" x2="144.8" y2="609.5" stroke-width="1"/>
<line x1="133.5" y1="613.2" x2="144.8" y2="613.2" stroke-width="1"/>
<line x1="133.5" y1="616.6" x2="144.8" y2="616.6" stroke-width="1"/>
<line x1="140" y1="605" x2="140" y2="620" stroke-width="1"/>
<rect x="144.9" y="581.3" width="8.6" height="8.4" fill="#000" stroke="none"/>
<rect x="147.6" y="585.2" width="1.7" height="2" fill="#fff" stroke="none"/>
<line x1="146.3" y1="589" x2="146.3" y2="620.6" stroke-width="2.4" shape-rendering="geometricPrecision"/>
<line x1="146.1" y1="620.6" x2="146.1" y2="648.7" stroke-width="1.5" shape-rendering="geometricPrecision"/>
<line x1="148.8" y1="590" x2="148.8" y2="648.7" stroke-width="1"/>
<line x1="146" y1="590" x2="161.4" y2="590" stroke-width="2"/>
<line x1="159.7" y1="583" x2="159.7" y2="591" stroke-width="2.4" shape-rendering="geometricPrecision"/>
<rect x="161.6" y="584.2" width="2.8" height="4.4" fill="none" stroke-width="1"/>
<line x1="150" y1="609.2" x2="161" y2="609.2" stroke-width="1"/>
<line x1="152" y1="612.6" x2="160" y2="612.6" stroke-width="1"/>
<line x1="155.6" y1="605.5" x2="155.6" y2="617" stroke-width="1"/>
<line x1="149" y1="617.6" x2="166" y2="617.6" stroke-width="1"/>
<path d="M148.8 620.6 L148.8 629.5 L149.6 633 L152 636 L156 637.6 L160.5 636.4 L163.4 633.4 L164.6 629.5 L164.6 620.6" fill="none" stroke-width="1.2" shape-rendering="geometricPrecision"/>
<line x1="139.5" y1="629.4" x2="164" y2="629.4" stroke-width="1" stroke-dasharray="5 2"/>
<line x1="156.2" y1="621" x2="156.2" y2="637" stroke-width="1" stroke-dasharray="5 2"/>
<line x1="140.6" y1="620.6" x2="140.6" y2="640" stroke-width="1"/>
<line x1="142.8" y1="620.6" x2="142.8" y2="640" stroke-width="1"/>
<line x1="138" y1="640" x2="149" y2="640" stroke-width="1"/>
<rect x="159.5" y="621.6" width="2" height="2.4" fill="#000" stroke="none"/>
<rect x="149" y="619.4" width="12" height="2" fill="#000" stroke="none"/>
<line x1="166.8" y1="621.6" x2="166.8" y2="663" stroke-width="1" stroke-dasharray="5 2.5"/>
<rect x="317.9" y="589.9" width="22.6" height="22.1" fill="none" stroke-width="1.6"/>
<rect x="337.4" y="596.2" width="3" height="5.2" fill="#000" stroke="none"/>
<line x1="328.5" y1="541.4" x2="328.5" y2="575" stroke-width="1.3" shape-rendering="geometricPrecision"/>
<line x1="328.5" y1="581.7" x2="328.5" y2="590" stroke-width="1.5" shape-rendering="geometricPrecision"/>
<line x1="328.5" y1="612" x2="328.5" y2="620.6" stroke-width="1.5" shape-rendering="geometricPrecision"/>
<line x1="328.5" y1="590" x2="328.5" y2="612" stroke-width="1" stroke-dasharray="5 2 1 2"/>
<line x1="328.5" y1="625.6" x2="328.5" y2="663.8" stroke-width="1.3" shape-rendering="geometricPrecision"/>
<line x1="309" y1="581.7" x2="334" y2="581.7" stroke-width="1"/>
<line x1="334" y1="581.7" x2="358" y2="581.7" stroke-width="1" stroke-dasharray="3 3.5 10.5 3.5 10.5"/>
<line x1="309" y1="620.6" x2="334" y2="620.6" stroke-width="1"/>
<line x1="334" y1="620.6" x2="358" y2="620.6" stroke-width="1" stroke-dasharray="3 3.5 10.5 3.5 10.5"/>
<line x1="309" y1="600.8" x2="358" y2="600.8" stroke-width="1"/>
<rect x="310" y="595.9" width="8" height="15.6" fill="none" stroke-width="1"/>
<path d="M309.6 601.4 L318 601.4 L327.2 603.4 L318 605.4 L309.6 605.4 Z" fill="#000" stroke-width="0.5" shape-rendering="geometricPrecision"/>
<rect x="301" y="581.3" width="8.6" height="8.8" fill="#000" stroke="none"/>
<rect x="304.6" y="584.6" width="1.8" height="1.8" fill="#fff" stroke="none"/>
<rect x="304.6" y="587.6" width="1.8" height="1.4" fill="#fff" stroke="none"/>
<line x1="308.8" y1="590" x2="308.8" y2="620.6" stroke-width="1.7" shape-rendering="geometricPrecision"/>
<line x1="303.6" y1="589" x2="303.6" y2="620.6" stroke-width="4.2" shape-rendering="geometricPrecision"/>
<line x1="293.6" y1="590" x2="303" y2="590" stroke-width="2"/>
<line x1="294.6" y1="583" x2="294.6" y2="591" stroke-width="1.8" shape-rendering="geometricPrecision"/>
<line x1="297.6" y1="583" x2="297.6" y2="588" stroke-width="1"/>
<line x1="305.5" y1="624" x2="305.5" y2="648.7" stroke-width="1"/>
<line x1="308.2" y1="624" x2="308.2" y2="648.7" stroke-width="1"/>
<line x1="158.2" y1="581.7" x2="301" y2="581.7" stroke-width="1.8" shape-rendering="geometricPrecision"/>
<line x1="148" y1="619.7" x2="303" y2="619.7" stroke-width="1.8" shape-rendering="geometricPrecision"/>
<line x1="165.75" y1="581.7" x2="165.75" y2="619.7" stroke-width="1"/>
<line x1="171.34" y1="581.7" x2="171.34" y2="619.7" stroke-width="1"/>
<line x1="176.93" y1="581.7" x2="176.93" y2="619.7" stroke-width="1"/>
<line x1="182.52" y1="581.7" x2="182.52" y2="619.7" stroke-width="1"/>
<line x1="188.11" y1="581.7" x2="188.11" y2="619.7" stroke-width="1"/>
<line x1="193.7" y1="581.7" x2="193.7" y2="619.7" stroke-width="1"/>
<line x1="199.29" y1="581.7" x2="199.29" y2="619.7" stroke-width="1"/>
<line x1="204.88" y1="581.7" x2="204.88" y2="619.7" stroke-width="1"/>
<line x1="210.47" y1="581.7" x2="210.47" y2="619.7" stroke-width="1"/>
<line x1="216.06" y1="581.7" x2="216.06" y2="619.7" stroke-width="1"/>
<line x1="221.65" y1="581.7" x2="221.65" y2="619.7" stroke-width="1"/>
<line x1="227.24" y1="581.7" x2="227.24" y2="619.7" stroke-width="1"/>
<line x1="232.83" y1="581.7" x2="232.83" y2="619.7" stroke-width="1"/>
<line x1="238.42" y1="581.7" x2="238.42" y2="619.7" stroke-width="1"/>
<line x1="244.01" y1="581.7" x2="244.01" y2="619.7" stroke-width="1"/>
<line x1="249.6" y1="581.7" x2="249.6" y2="619.7" stroke-width="1"/>
<line x1="255.19" y1="581.7" x2="255.19" y2="619.7" stroke-width="1"/>
<line x1="260.78" y1="581.7" x2="260.78" y2="619.7" stroke-width="1"/>
<line x1="266.37" y1="581.7" x2="266.37" y2="619.7" stroke-width="1"/>
<line x1="271.96" y1="581.7" x2="271.96" y2="619.7" stroke-width="1"/>
<line x1="277.55" y1="581.7" x2="277.55" y2="619.7" stroke-width="1"/>
<line x1="283.14" y1="581.7" x2="283.14" y2="619.7" stroke-width="1"/>
<rect x="165" y="596.4" width="122.6" height="8.3" fill="#000" stroke="none"/>
<rect x="166.2" y="597.6" width="2.5" height="2.3" fill="#fff" stroke="none"/>
<rect x="169" y="601.1" width="2.5" height="2.3" fill="#fff" stroke="none"/>
<rect x="171.8" y="597.6" width="2.5" height="2.3" fill="#fff" stroke="none"/>
<rect x="174.6" y="601.1" width="2.5" height="2.3" fill="#fff" stroke="none"/>
<rect x="177.4" y="597.6" width="2.5" height="2.3" fill="#fff" stroke="none"/>
<rect x="180.2" y="601.1" width="2.5" height="2.3" fill="#fff" stroke="none"/>
<rect x="183" y="597.6" width="2.5" height="2.3" fill="#fff" stroke="none"/>
<rect x="185.8" y="601.1" width="2.5" height="2.3" fill="#fff" stroke="none"/>
<rect x="188.6" y="597.6" width="2.5" height="2.3" fill="#fff" stroke="none"/>
<rect x="191.4" y="601.1" width="2.5" height="2.3" fill="#fff" stroke="none"/>
<rect x="194.2" y="597.6" width="2.5" height="2.3" fill="#fff" stroke="none"/>
<rect x="197" y="601.1" width="2.5" height="2.3" fill="#fff" stroke="none"/>
<rect x="199.8" y="597.6" width="2.5" height="2.3" fill="#fff" stroke="none"/>
<rect x="202.6" y="601.1" width="2.5" height="2.3" fill="#fff" stroke="none"/>
<rect x="205.4" y="597.6" width="2.5" height="2.3" fill="#fff" stroke="none"/>
<rect x="208.2" y="601.1" width="2.5" height="2.3" fill="#fff" stroke="none"/>
<rect x="211" y="597.6" width="2.5" height="2.3" fill="#fff" stroke="none"/>
<rect x="213.8" y="601.1" width="2.5" height="2.3" fill="#fff" stroke="none"/>
<rect x="216.6" y="597.6" width="2.5" height="2.3" fill="#fff" stroke="none"/>
<rect x="219.4" y="601.1" width="2.5" height="2.3" fill="#fff" stroke="none"/>
<rect x="222.2" y="597.6" width="2.5" height="2.3" fill="#fff" stroke="none"/>
<rect x="225" y="601.1" width="2.5" height="2.3" fill="#fff" stroke="none"/>
<rect x="227.8" y="597.6" width="2.5" height="2.3" fill="#fff" stroke="none"/>
<rect x="230.6" y="601.1" width="2.5" height="2.3" fill="#fff" stroke="none"/>
<rect x="233.4" y="597.6" width="2.5" height="2.3" fill="#fff" stroke="none"/>
<rect x="236.2" y="601.1" width="2.5" height="2.3" fill="#fff" stroke="none"/>
<rect x="239" y="597.6" width="2.5" height="2.3" fill="#fff" stroke="none"/>
<rect x="241.8" y="601.1" width="2.5" height="2.3" fill="#fff" stroke="none"/>
<rect x="244.6" y="597.6" width="2.5" height="2.3" fill="#fff" stroke="none"/>
<rect x="247.4" y="601.1" width="2.5" height="2.3" fill="#fff" stroke="none"/>
<rect x="250.2" y="597.6" width="2.5" height="2.3" fill="#fff" stroke="none"/>
<rect x="253" y="601.1" width="2.5" height="2.3" fill="#fff" stroke="none"/>
<rect x="255.8" y="597.6" width="2.5" height="2.3" fill="#fff" stroke="none"/>
<rect x="258.6" y="601.1" width="2.5" height="2.3" fill="#fff" stroke="none"/>
<rect x="261.4" y="597.6" width="2.5" height="2.3" fill="#fff" stroke="none"/>
<rect x="264.2" y="601.1" width="2.5" height="2.3" fill="#fff" stroke="none"/>
<rect x="267" y="597.6" width="2.5" height="2.3" fill="#fff" stroke="none"/>
<rect x="269.8" y="601.1" width="2.5" height="2.3" fill="#fff" stroke="none"/>
<rect x="272.6" y="597.6" width="2.5" height="2.3" fill="#fff" stroke="none"/>
<rect x="275.4" y="601.1" width="2.5" height="2.3" fill="#fff" stroke="none"/>
<rect x="278.2" y="597.6" width="2.5" height="2.3" fill="#fff" stroke="none"/>
<rect x="281" y="601.1" width="2.5" height="2.3" fill="#fff" stroke="none"/>
<rect x="283.8" y="597.6" width="2.5" height="2.3" fill="#fff" stroke="none"/>
<line x1="164.6" y1="589" x2="177" y2="589" stroke-width="1"/>
<line x1="287.6" y1="584" x2="287.6" y2="618.6" stroke-width="1.2" shape-rendering="geometricPrecision"/>
<line x1="287.6" y1="617.9" x2="303.6" y2="617.9" stroke-width="2.2" shape-rendering="geometricPrecision"/>
<rect x="288.4" y="605" width="13" height="11.6" fill="#fff" stroke="none"/>
<rect x="288.4" y="591.2" width="13" height="5" fill="#fff" stroke="none"/>
<line x1="287.6" y1="584" x2="294" y2="584" stroke-width="1"/>
<rect x="166.4" y="606" width="26.6" height="12.4" fill="#fff" stroke="none"/>
<line x1="166" y1="606" x2="166" y2="618.6" stroke-width="1"/>
<line x1="171" y1="614" x2="182" y2="614" stroke-width="1"/>
<line x1="176.6" y1="607" x2="176.6" y2="618" stroke-width="1"/>
<line x1="171" y1="610.6" x2="182" y2="610.6" stroke-width="1"/>
<line x1="183.6" y1="606" x2="183.6" y2="618.6" stroke-width="1"/>
<text x="192.88" y="612.2" font-size="10.5" textLength="9.6" lengthAdjust="spacingAndGlyphs" text-anchor="middle" transform="rotate(-90 192.88 612.2)">50</text>
<rect x="205.6" y="584.6" width="8.8" height="10.6" fill="#fff" stroke="none"/>
<text x="213.78" y="589.9" font-size="10.5" textLength="9.6" lengthAdjust="spacingAndGlyphs" text-anchor="middle" transform="rotate(-90 213.78 589.9)">66</text>
<rect x="222" y="584.6" width="8.8" height="10.6" fill="#fff" stroke="none"/>
<text x="230.18" y="589.7" font-size="10.5" textLength="9.6" lengthAdjust="spacingAndGlyphs" text-anchor="middle" transform="rotate(-90 230.18 589.7)">70</text>
<circle cx="215.5" cy="581.7" r="1.8" fill="#000" stroke="none" shape-rendering="geometricPrecision"/>
<circle cx="231" cy="581.7" r="1.8" fill="#000" stroke="none" shape-rendering="geometricPrecision"/>
<circle cx="215.5" cy="619.9" r="1.8" fill="#000" stroke="none" shape-rendering="geometricPrecision"/>
<circle cx="231" cy="619.9" r="1.8" fill="#000" stroke="none" shape-rendering="geometricPrecision"/>
<line x1="125.5" y1="541.4" x2="329.8" y2="541.4" stroke-width="1"/>
<circle cx="125.5" cy="541.4" r="1.7" fill="#000" stroke="none" shape-rendering="geometricPrecision"/>
<circle cx="153.8" cy="541.4" r="1.7" fill="#000" stroke="none" shape-rendering="geometricPrecision"/>
<circle cx="300.4" cy="541.4" r="1.7" fill="#000" stroke="none" shape-rendering="geometricPrecision"/>
<circle cx="329.8" cy="541.4" r="1.7" fill="#000" stroke="none" shape-rendering="geometricPrecision"/>
<line x1="117.8" y1="555.6" x2="204.2" y2="555.6" stroke-width="1"/>
<line x1="300.4" y1="555.6" x2="336.8" y2="555.6" stroke-width="1"/>
<circle cx="125.5" cy="555.6" r="1.7" fill="#000" stroke="none" shape-rendering="geometricPrecision"/>
<circle cx="153.8" cy="555.6" r="1.7" fill="#000" stroke="none" shape-rendering="geometricPrecision"/>
<circle cx="204.2" cy="555.6" r="1.7" fill="#000" stroke="none" shape-rendering="geometricPrecision"/>
<circle cx="300.4" cy="555.6" r="1.7" fill="#000" stroke="none" shape-rendering="geometricPrecision"/>
<circle cx="329.8" cy="555.6" r="1.7" fill="#000" stroke="none" shape-rendering="geometricPrecision"/>
<line x1="153.8" y1="541.4" x2="153.8" y2="577" stroke-width="1"/>
<line x1="300.4" y1="541.4" x2="300.4" y2="577" stroke-width="1"/>
<line x1="204.2" y1="555.6" x2="204.2" y2="575.8" stroke-width="1"/>
<text x="133.8" y="538.4" font-size="10.5" textLength="10.8" lengthAdjust="spacingAndGlyphs">50</text>
<text x="218.8" y="538.4" font-size="10.5" textLength="16.4" lengthAdjust="spacingAndGlyphs">800</text>
<text x="309" y="538.4" font-size="10.5" textLength="11" lengthAdjust="spacingAndGlyphs">50</text>
<text x="118" y="552.6" font-size="10.5" textLength="5" lengthAdjust="spacingAndGlyphs">2</text>
<text x="134" y="552.6" font-size="10.5" textLength="11" lengthAdjust="spacingAndGlyphs">48</text>
<text x="173" y="552.6" font-size="10.5" textLength="11" lengthAdjust="spacingAndGlyphs">89</text>
<text x="309" y="552.6" font-size="10.5" textLength="11" lengthAdjust="spacingAndGlyphs">48</text>
<text x="331.6" y="552.6" font-size="10.5" textLength="5" lengthAdjust="spacingAndGlyphs">2</text>
<line x1="152" y1="569.5" x2="159.4" y2="569.5" stroke-width="1"/>
<line x1="153.6" y1="568" x2="153.6" y2="577.2" stroke-width="1"/>
<line x1="156.4" y1="568" x2="156.4" y2="577.2" stroke-width="1"/>
<rect x="152.7" y="568.3" width="4.6" height="2.2" fill="#000" stroke="none"/>
<text x="156.4" y="566.6" font-size="10.5" textLength="4.8" lengthAdjust="spacingAndGlyphs">6</text>
<line x1="295.6" y1="569.5" x2="303.3" y2="569.5" stroke-width="1"/>
<line x1="297.2" y1="568" x2="297.2" y2="577.2" stroke-width="1"/>
<line x1="300.3" y1="568" x2="300.3" y2="577.2" stroke-width="1"/>
<rect x="296.3" y="568.3" width="4.9" height="2.2" fill="#000" stroke="none"/>
<text x="294.4" y="566.6" font-size="10.5" textLength="4.8" lengthAdjust="spacingAndGlyphs">6</text>
<line x1="176.4" y1="568" x2="176.4" y2="589" stroke-width="1"/>
<circle cx="176.4" cy="589" r="1.3" fill="#000" stroke="none" shape-rendering="geometricPrecision"/>
<text x="174.28" y="573.6" font-size="10.5" textLength="9" lengthAdjust="spacingAndGlyphs" text-anchor="middle" transform="rotate(-90 174.28 573.6)">13</text>
<line x1="193.8" y1="568" x2="193.8" y2="591.6" stroke-width="1"/>
<circle cx="193.8" cy="591.6" r="1.3" fill="#000" stroke="none" shape-rendering="geometricPrecision"/>
<text x="190.78" y="573.6" font-size="10.5" textLength="9" lengthAdjust="spacingAndGlyphs" text-anchor="middle" transform="rotate(-90 190.78 573.6)">15</text>
<line x1="215.5" y1="571.6" x2="215.5" y2="581.7" stroke-width="1"/>
<text x="213.58" y="574.6" font-size="10.5" textLength="5" lengthAdjust="spacingAndGlyphs" text-anchor="middle" transform="rotate(-90 213.58 574.6)">2</text>
<line x1="215.5" y1="620" x2="215.5" y2="628.4" stroke-width="1"/>
<text x="214.08" y="625.4" font-size="10.5" textLength="5" lengthAdjust="spacingAndGlyphs" text-anchor="middle" transform="rotate(-90 214.08 625.4)">2</text>
<line x1="181.7" y1="620.6" x2="181.7" y2="642.8" stroke-width="1"/>
<circle cx="181.7" cy="629.4" r="1.3" fill="#000" stroke="none" shape-rendering="geometricPrecision"/>
<circle cx="181.7" cy="620.6" r="1.3" fill="#000" stroke="none" shape-rendering="geometricPrecision"/>
<text x="179.18" y="636" font-size="10.5" textLength="9" lengthAdjust="spacingAndGlyphs" text-anchor="middle" transform="rotate(-90 179.18 636)">18</text>
<path d="M193.7 620 L193.7 628.2 L203.8 628.2" fill="none" stroke-width="1"/>
<line x1="203.8" y1="628.2" x2="203.8" y2="662" stroke-width="1" stroke-dasharray="5 2.5"/>
<line x1="117.8" y1="648.7" x2="336.8" y2="648.7" stroke-width="1"/>
<circle cx="125.5" cy="648.7" r="1.7" fill="#000" stroke="none" shape-rendering="geometricPrecision"/>
<circle cx="146.4" cy="648.7" r="1.7" fill="#000" stroke="none" shape-rendering="geometricPrecision"/>
<circle cx="306.8" cy="648.7" r="1.7" fill="#000" stroke="none" shape-rendering="geometricPrecision"/>
<circle cx="328.5" cy="648.7" r="1.7" fill="#000" stroke="none" shape-rendering="geometricPrecision"/>
<line x1="125.5" y1="663.8" x2="329.8" y2="663.8" stroke-width="1"/>
<circle cx="125.5" cy="663.8" r="1.7" fill="#000" stroke="none" shape-rendering="geometricPrecision"/>
<circle cx="329.8" cy="663.8" r="1.7" fill="#000" stroke="none" shape-rendering="geometricPrecision"/>
<text x="118.4" y="646.4" font-size="10.5" textLength="5" lengthAdjust="spacingAndGlyphs">2</text>
<text x="129.8" y="646.4" font-size="10.5" textLength="11" lengthAdjust="spacingAndGlyphs">34</text>
<text x="148.6" y="646.4" font-size="10.5" textLength="4.8" lengthAdjust="spacingAndGlyphs">3</text>
<text x="208.7" y="646.6" font-size="10.5" textLength="34.3" lengthAdjust="spacingAndGlyphs">DW=819</text>
<text x="299.2" y="646.4" font-size="10.5" textLength="4.8" lengthAdjust="spacingAndGlyphs">6</text>
<text x="312.6" y="646.4" font-size="10.5" textLength="11" lengthAdjust="spacingAndGlyphs">34</text>
<text x="331.6" y="646.4" font-size="10.5" textLength="4.8" lengthAdjust="spacingAndGlyphs">2</text>
<text x="219.2" y="660.5" font-size="10.5" textLength="15.9" lengthAdjust="spacingAndGlyphs">900</text>
<rect x="425.2" y="589.9" width="22.6" height="22.1" fill="none" stroke-width="1.6"/>
<line x1="437.3" y1="541.4" x2="437.3" y2="575" stroke-width="1.3" shape-rendering="geometricPrecision"/>
<line x1="437.3" y1="581.7" x2="437.3" y2="590" stroke-width="1.5" shape-rendering="geometricPrecision"/>
<line x1="437.3" y1="612" x2="437.3" y2="620.6" stroke-width="1.5" shape-rendering="geometricPrecision"/>
<line x1="437.3" y1="590" x2="437.3" y2="612" stroke-width="1" stroke-dasharray="5 2 1 2"/>
<line x1="437.3" y1="625.6" x2="437.3" y2="663.8" stroke-width="1.3" shape-rendering="geometricPrecision"/>
<line x1="407.4" y1="581.7" x2="434.5" y2="581.7" stroke-width="1" stroke-dasharray="10.5 3.5"/>
<line x1="437.5" y1="581.7" x2="456.5" y2="581.7" stroke-width="1"/>
<line x1="407.4" y1="620.6" x2="434.5" y2="620.6" stroke-width="1" stroke-dasharray="10.5 3.5"/>
<line x1="437.5" y1="620.6" x2="456.5" y2="620.6" stroke-width="1"/>
<line x1="407.4" y1="600.8" x2="457.5" y2="600.8" stroke-width="1"/>
<rect x="447.9" y="596" width="8.4" height="7" fill="none" stroke-width="1"/>
<rect x="444.5" y="596" width="4.4" height="7" fill="#000" stroke="none"/>
<path d="M439 603.6 L449.5 600.6 L457.5 600.6 L457.5 605.4 L449.5 605.4 Z" fill="#000" stroke-width="0.5" shape-rendering="geometricPrecision"/>
<rect x="447.9" y="605.4" width="8.4" height="14.6" fill="none" stroke-width="1"/>
<line x1="445" y1="609.5" x2="456.3" y2="609.5" stroke-width="1"/>
<line x1="445" y1="613.2" x2="456.3" y2="613.2" stroke-width="1"/>
<line x1="445" y1="616.6" x2="456.3" y2="616.6" stroke-width="1"/>
<line x1="451.5" y1="605" x2="451.5" y2="620" stroke-width="1"/>
<rect x="456.4" y="581.3" width="8.6" height="8.4" fill="#000" stroke="none"/>
<rect x="459.1" y="585.2" width="1.7" height="2" fill="#fff" stroke="none"/>
<line x1="457.8" y1="589" x2="457.8" y2="620.6" stroke-width="2.4" shape-rendering="geometricPrecision"/>
<line x1="457.6" y1="620.6" x2="457.6" y2="648.7" stroke-width="1.5" shape-rendering="geometricPrecision"/>
<line x1="460.3" y1="590" x2="460.3" y2="648.7" stroke-width="1"/>
<line x1="457.5" y1="590" x2="472.9" y2="590" stroke-width="2"/>
<line x1="471.2" y1="583" x2="471.2" y2="591" stroke-width="2.4" shape-rendering="geometricPrecision"/>
<rect x="473.1" y="584.2" width="2.8" height="4.4" fill="none" stroke-width="1"/>
<line x1="461.5" y1="609.2" x2="472.5" y2="609.2" stroke-width="1"/>
<line x1="463.5" y1="612.6" x2="471.5" y2="612.6" stroke-width="1"/>
<line x1="467.1" y1="605.5" x2="467.1" y2="617" stroke-width="1"/>
<line x1="460.5" y1="617.6" x2="477.5" y2="617.6" stroke-width="1"/>
<path d="M460.3 620.6 L460.3 629.5 L461.1 633 L463.5 636 L467.5 637.6 L472 636.4 L474.9 633.4 L476.1 629.5 L476.1 620.6" fill="none" stroke-width="1.2" shape-rendering="geometricPrecision"/>
<line x1="451" y1="629.4" x2="475.5" y2="629.4" stroke-width="1" stroke-dasharray="5 2"/>
<line x1="467.7" y1="621" x2="467.7" y2="637" stroke-width="1" stroke-dasharray="5 2"/>
<line x1="452.1" y1="620.6" x2="452.1" y2="640" stroke-width="1"/>
<line x1="454.3" y1="620.6" x2="454.3" y2="640" stroke-width="1"/>
<line x1="449.5" y1="640" x2="460.5" y2="640" stroke-width="1"/>
<rect x="471" y="621.6" width="2" height="2.4" fill="#000" stroke="none"/>
<rect x="460.5" y="619.4" width="12" height="2" fill="#000" stroke="none"/>
<line x1="478.3" y1="621.6" x2="478.3" y2="663" stroke-width="1" stroke-dasharray="5 2.5"/>
<g transform="translate(1078.3 0) scale(-1 1)">
<rect x="425.2" y="589.9" width="22.6" height="22.1" fill="none" stroke-width="1.6"/>
<line x1="437.3" y1="541.4" x2="437.3" y2="575" stroke-width="1.3" shape-rendering="geometricPrecision"/>
<line x1="437.3" y1="581.7" x2="437.3" y2="590" stroke-width="1.5" shape-rendering="geometricPrecision"/>
<line x1="437.3" y1="612" x2="437.3" y2="620.6" stroke-width="1.5" shape-rendering="geometricPrecision"/>
<line x1="437.3" y1="590" x2="437.3" y2="612" stroke-width="1" stroke-dasharray="5 2 1 2"/>
<line x1="437.3" y1="625.6" x2="437.3" y2="663.8" stroke-width="1.3" shape-rendering="geometricPrecision"/>
<line x1="407.4" y1="581.7" x2="434.5" y2="581.7" stroke-width="1" stroke-dasharray="10.5 3.5"/>
<line x1="437.5" y1="581.7" x2="456.5" y2="581.7" stroke-width="1"/>
<line x1="407.4" y1="620.6" x2="434.5" y2="620.6" stroke-width="1" stroke-dasharray="10.5 3.5"/>
<line x1="437.5" y1="620.6" x2="456.5" y2="620.6" stroke-width="1"/>
<line x1="407.4" y1="600.8" x2="457.5" y2="600.8" stroke-width="1"/>
<rect x="447.9" y="596" width="8.4" height="7" fill="none" stroke-width="1"/>
<rect x="444.5" y="596" width="4.4" height="7" fill="#000" stroke="none"/>
<path d="M439 603.6 L449.5 600.6 L457.5 600.6 L457.5 605.4 L449.5 605.4 Z" fill="#000" stroke-width="0.5" shape-rendering="geometricPrecision"/>
<rect x="447.9" y="605.4" width="8.4" height="14.6" fill="none" stroke-width="1"/>
<line x1="445" y1="609.5" x2="456.3" y2="609.5" stroke-width="1"/>
<line x1="445" y1="613.2" x2="456.3" y2="613.2" stroke-width="1"/>
<line x1="445" y1="616.6" x2="456.3" y2="616.6" stroke-width="1"/>
<line x1="451.5" y1="605" x2="451.5" y2="620" stroke-width="1"/>
<rect x="456.4" y="581.3" width="8.6" height="8.4" fill="#000" stroke="none"/>
<rect x="459.1" y="585.2" width="1.7" height="2" fill="#fff" stroke="none"/>
<line x1="457.8" y1="589" x2="457.8" y2="620.6" stroke-width="2.4" shape-rendering="geometricPrecision"/>
<line x1="457.6" y1="620.6" x2="457.6" y2="648.7" stroke-width="1.5" shape-rendering="geometricPrecision"/>
<line x1="460.3" y1="590" x2="460.3" y2="648.7" stroke-width="1"/>
<line x1="457.5" y1="590" x2="472.9" y2="590" stroke-width="2"/>
<line x1="471.2" y1="583" x2="471.2" y2="591" stroke-width="2.4" shape-rendering="geometricPrecision"/>
<rect x="473.1" y="584.2" width="2.8" height="4.4" fill="none" stroke-width="1"/>
<line x1="461.5" y1="609.2" x2="472.5" y2="609.2" stroke-width="1"/>
<line x1="463.5" y1="612.6" x2="471.5" y2="612.6" stroke-width="1"/>
<line x1="467.1" y1="605.5" x2="467.1" y2="617" stroke-width="1"/>
<line x1="460.5" y1="617.6" x2="477.5" y2="617.6" stroke-width="1"/>
<path d="M460.3 620.6 L460.3 629.5 L461.1 633 L463.5 636 L467.5 637.6 L472 636.4 L474.9 633.4 L476.1 629.5 L476.1 620.6" fill="none" stroke-width="1.2" shape-rendering="geometricPrecision"/>
<line x1="451" y1="629.4" x2="475.5" y2="629.4" stroke-width="1" stroke-dasharray="5 2"/>
<line x1="467.7" y1="621" x2="467.7" y2="637" stroke-width="1" stroke-dasharray="5 2"/>
<line x1="452.1" y1="620.6" x2="452.1" y2="640" stroke-width="1"/>
<line x1="454.3" y1="620.6" x2="454.3" y2="640" stroke-width="1"/>
<line x1="449.5" y1="640" x2="460.5" y2="640" stroke-width="1"/>
<rect x="471" y="621.6" width="2" height="2.4" fill="#000" stroke="none"/>
<rect x="460.5" y="619.4" width="12" height="2" fill="#000" stroke="none"/>
<line x1="478.3" y1="621.6" x2="478.3" y2="663" stroke-width="1" stroke-dasharray="5 2.5"/>
</g>
<line x1="438.9" y1="541.2" x2="438.9" y2="575" stroke-width="1"/>
<line x1="438.9" y1="625.6" x2="438.9" y2="663.6" stroke-width="1"/>
<line x1="639.4" y1="541.2" x2="639.4" y2="575" stroke-width="1"/>
<line x1="639.4" y1="625.6" x2="639.4" y2="663.6" stroke-width="1"/>
<line x1="469.7" y1="581.7" x2="537.5" y2="581.7" stroke-width="1.8" shape-rendering="geometricPrecision"/>
<line x1="459.5" y1="619.7" x2="537.5" y2="619.7" stroke-width="1.8" shape-rendering="geometricPrecision"/>
<line x1="476.8" y1="581.7" x2="476.8" y2="619.7" stroke-width="1"/>
<line x1="482.05" y1="581.7" x2="482.05" y2="619.7" stroke-width="1"/>
<line x1="487.3" y1="581.7" x2="487.3" y2="619.7" stroke-width="1"/>
<line x1="492.55" y1="581.7" x2="492.55" y2="619.7" stroke-width="1"/>
<line x1="497.8" y1="581.7" x2="497.8" y2="619.7" stroke-width="1"/>
<line x1="503.05" y1="581.7" x2="503.05" y2="619.7" stroke-width="1"/>
<line x1="508.3" y1="581.7" x2="508.3" y2="619.7" stroke-width="1"/>
<line x1="513.55" y1="581.7" x2="513.55" y2="619.7" stroke-width="1"/>
<line x1="518.8" y1="581.7" x2="518.8" y2="619.7" stroke-width="1"/>
<rect x="476.8" y="596.4" width="42" height="8.3" fill="#000" stroke="none"/>
<rect x="478" y="597.6" width="2.5" height="2.3" fill="#fff" stroke="none"/>
<rect x="480.8" y="601.1" width="2.5" height="2.3" fill="#fff" stroke="none"/>
<rect x="483.6" y="597.6" width="2.5" height="2.3" fill="#fff" stroke="none"/>
<rect x="486.4" y="601.1" width="2.5" height="2.3" fill="#fff" stroke="none"/>
<rect x="489.2" y="597.6" width="2.5" height="2.3" fill="#fff" stroke="none"/>
<rect x="492" y="601.1" width="2.5" height="2.3" fill="#fff" stroke="none"/>
<rect x="494.8" y="597.6" width="2.5" height="2.3" fill="#fff" stroke="none"/>
<rect x="497.6" y="601.1" width="2.5" height="2.3" fill="#fff" stroke="none"/>
<rect x="500.4" y="597.6" width="2.5" height="2.3" fill="#fff" stroke="none"/>
<rect x="503.2" y="601.1" width="2.5" height="2.3" fill="#fff" stroke="none"/>
<rect x="506" y="597.6" width="2.5" height="2.3" fill="#fff" stroke="none"/>
<rect x="508.8" y="601.1" width="2.5" height="2.3" fill="#fff" stroke="none"/>
<rect x="511.6" y="597.6" width="2.5" height="2.3" fill="#fff" stroke="none"/>
<rect x="514.4" y="601.1" width="2.5" height="2.3" fill="#fff" stroke="none"/>
<rect x="520.4" y="582.6" width="14" height="36" fill="#fff" stroke="none"/>
<line x1="519.6" y1="581.7" x2="519.6" y2="619.7" stroke-width="1.2" shape-rendering="geometricPrecision"/>
<rect x="519.4" y="581.6" width="18.4" height="3.1" fill="#000" stroke="none"/>
<rect x="519.4" y="617" width="18.4" height="3" fill="#000" stroke="none"/>
<rect x="533" y="581.6" width="4.8" height="38.4" fill="#000" stroke="none"/>
<circle cx="526.6" cy="600.4" r="3.7" fill="#000" stroke="none" shape-rendering="geometricPrecision"/>
<path d="M522 590 L529.6 598 L523 602 Z" fill="#000" stroke-width="0.5" shape-rendering="geometricPrecision"/>
<rect x="478.4" y="606" width="14" height="12.4" fill="#fff" stroke="none"/>
<line x1="484" y1="610.4" x2="495" y2="610.4" stroke-width="1"/>
<line x1="484" y1="613.6" x2="495" y2="613.6" stroke-width="1"/>
<line x1="489.6" y1="606.4" x2="489.6" y2="618.4" stroke-width="1"/>
<rect x="483" y="584.4" width="8.8" height="10.6" fill="#fff" stroke="none"/>
<text x="491.08" y="589.7" font-size="10.5" textLength="9.6" lengthAdjust="spacingAndGlyphs" text-anchor="middle" transform="rotate(-90 491.08 589.7)">66</text>
<rect x="498" y="584.4" width="8.8" height="10.6" fill="#fff" stroke="none"/>
<text x="506.08" y="589.7" font-size="10.5" textLength="9.6" lengthAdjust="spacingAndGlyphs" text-anchor="middle" transform="rotate(-90 506.08 589.7)">70</text>
<circle cx="493.4" cy="581.7" r="1.8" fill="#000" stroke="none" shape-rendering="geometricPrecision"/>
<circle cx="508.5" cy="581.7" r="1.8" fill="#000" stroke="none" shape-rendering="geometricPrecision"/>
<circle cx="493.4" cy="619.9" r="1.8" fill="#000" stroke="none" shape-rendering="geometricPrecision"/>
<circle cx="508.5" cy="619.9" r="1.8" fill="#000" stroke="none" shape-rendering="geometricPrecision"/>
<line x1="493.4" y1="573.3" x2="493.4" y2="581.7" stroke-width="1"/>
<text x="492.38" y="575.8" font-size="10.5" textLength="5" lengthAdjust="spacingAndGlyphs" text-anchor="middle" transform="rotate(-90 492.38 575.8)">2</text>
<line x1="493.4" y1="620" x2="493.4" y2="627.6" stroke-width="1"/>
<text x="492.38" y="623.8" font-size="10.5" textLength="5" lengthAdjust="spacingAndGlyphs" text-anchor="middle" transform="rotate(-90 492.38 623.8)">2</text>
<path d="M506.2 620 L506.2 628.1 L516 628.1 L516 635" fill="none" stroke-width="1"/>
<rect x="533" y="581.6" width="12.5" height="10.8" fill="#000" stroke="none"/>
<rect x="539.3" y="588.5" width="2.3" height="2.4" fill="#fff" stroke="none"/>
<rect x="539.8" y="585.4" width="1.6" height="1.4" fill="#fff" stroke="none"/>
<rect x="540.2" y="592" width="4.2" height="28" fill="#000" stroke="none"/>
<rect x="537.8" y="592.4" width="2.4" height="28.2" fill="#fff" stroke="none"/>
<rect x="544" y="590.9" width="8.5" height="2.4" fill="#000" stroke="none"/>
<rect x="550.6" y="583.8" width="1.9" height="9.4" fill="#000" stroke="none"/>
<line x1="546.6" y1="580.4" x2="546.6" y2="589.5" stroke-width="1.4" shape-rendering="geometricPrecision"/>
<rect x="544" y="617" width="14.4" height="3" fill="#000" stroke="none"/>
<line x1="558.2" y1="584" x2="558.2" y2="619" stroke-width="1"/>
<line x1="537.3" y1="624.1" x2="537.3" y2="648.8" stroke-width="1"/>
<line x1="540.6" y1="624.1" x2="540.6" y2="648.8" stroke-width="1"/>
<line x1="548" y1="581.7" x2="609.6" y2="581.7" stroke-width="1.8" shape-rendering="geometricPrecision"/>
<line x1="542" y1="619.7" x2="620" y2="619.7" stroke-width="1.8" shape-rendering="geometricPrecision"/>
<line x1="559.2" y1="581.7" x2="559.2" y2="619.7" stroke-width="1"/>
<line x1="564.54" y1="581.7" x2="564.54" y2="619.7" stroke-width="1"/>
<line x1="569.88" y1="581.7" x2="569.88" y2="619.7" stroke-width="1"/>
<line x1="575.22" y1="581.7" x2="575.22" y2="619.7" stroke-width="1"/>
<line x1="580.56" y1="581.7" x2="580.56" y2="619.7" stroke-width="1"/>
<line x1="585.9" y1="581.7" x2="585.9" y2="619.7" stroke-width="1"/>
<line x1="591.24" y1="581.7" x2="591.24" y2="619.7" stroke-width="1"/>
<line x1="596.58" y1="581.7" x2="596.58" y2="619.7" stroke-width="1"/>
<line x1="601.92" y1="581.7" x2="601.92" y2="619.7" stroke-width="1"/>
<rect x="559.2" y="596.4" width="42.2" height="8.3" fill="#000" stroke="none"/>
<rect x="560.4" y="597.6" width="2.5" height="2.3" fill="#fff" stroke="none"/>
<rect x="563.2" y="601.1" width="2.5" height="2.3" fill="#fff" stroke="none"/>
<rect x="566" y="597.6" width="2.5" height="2.3" fill="#fff" stroke="none"/>
<rect x="568.8" y="601.1" width="2.5" height="2.3" fill="#fff" stroke="none"/>
<rect x="571.6" y="597.6" width="2.5" height="2.3" fill="#fff" stroke="none"/>
<rect x="574.4" y="601.1" width="2.5" height="2.3" fill="#fff" stroke="none"/>
<rect x="577.2" y="597.6" width="2.5" height="2.3" fill="#fff" stroke="none"/>
<rect x="580" y="601.1" width="2.5" height="2.3" fill="#fff" stroke="none"/>
<rect x="582.8" y="597.6" width="2.5" height="2.3" fill="#fff" stroke="none"/>
<rect x="585.6" y="601.1" width="2.5" height="2.3" fill="#fff" stroke="none"/>
<rect x="588.4" y="597.6" width="2.5" height="2.3" fill="#fff" stroke="none"/>
<rect x="591.2" y="601.1" width="2.5" height="2.3" fill="#fff" stroke="none"/>
<rect x="594" y="597.6" width="2.5" height="2.3" fill="#fff" stroke="none"/>
<rect x="596.8" y="601.1" width="2.5" height="2.3" fill="#fff" stroke="none"/>
<line x1="584.8" y1="606" x2="584.8" y2="618.6" stroke-width="1"/>
<rect x="585.4" y="606" width="16.4" height="12.4" fill="#fff" stroke="none"/>
<line x1="589" y1="610.4" x2="599" y2="610.4" stroke-width="1"/>
<line x1="589" y1="613.6" x2="599" y2="613.6" stroke-width="1"/>
<line x1="594" y1="606.4" x2="594" y2="618.4" stroke-width="1"/>
<line x1="565" y1="617.8" x2="602" y2="617.8" stroke-width="1"/>
<line x1="588.7" y1="620.6" x2="588.7" y2="634.4" stroke-width="1"/>
<circle cx="588.7" cy="629" r="1.3" fill="#000" stroke="none" shape-rendering="geometricPrecision"/>
<circle cx="588.7" cy="620.6" r="1.3" fill="#000" stroke="none" shape-rendering="geometricPrecision"/>
<line x1="584" y1="629" x2="594" y2="629" stroke-width="1"/>
<text x="586.48" y="625.6" font-size="10.5" textLength="9" lengthAdjust="spacingAndGlyphs" text-anchor="middle" transform="rotate(-90 586.48 625.6)">18</text>
<path d="M572 620 L572 628.4 L562 628.4 L562 637" fill="none" stroke-width="1"/>
<line x1="436.9" y1="541.2" x2="641" y2="541.2" stroke-width="1"/>
<circle cx="436.9" cy="541.2" r="1.7" fill="#000" stroke="none" shape-rendering="geometricPrecision"/>
<circle cx="465.4" cy="541.2" r="1.7" fill="#000" stroke="none" shape-rendering="geometricPrecision"/>
<circle cx="612.3" cy="541.2" r="1.7" fill="#000" stroke="none" shape-rendering="geometricPrecision"/>
<circle cx="641" cy="541.2" r="1.7" fill="#000" stroke="none" shape-rendering="geometricPrecision"/>
<line x1="428.2" y1="555.3" x2="515.7" y2="555.3" stroke-width="1"/>
<line x1="562.2" y1="555.3" x2="649.2" y2="555.3" stroke-width="1"/>
<circle cx="436.9" cy="555.3" r="1.7" fill="#000" stroke="none" shape-rendering="geometricPrecision"/>
<circle cx="465.4" cy="555.3" r="1.7" fill="#000" stroke="none" shape-rendering="geometricPrecision"/>
<circle cx="515.7" cy="555.3" r="1.7" fill="#000" stroke="none" shape-rendering="geometricPrecision"/>
<circle cx="562.2" cy="555.3" r="1.7" fill="#000" stroke="none" shape-rendering="geometricPrecision"/>
<circle cx="612.3" cy="555.3" r="1.7" fill="#000" stroke="none" shape-rendering="geometricPrecision"/>
<circle cx="641" cy="555.3" r="1.7" fill="#000" stroke="none" shape-rendering="geometricPrecision"/>
<line x1="465.4" y1="541.2" x2="465.4" y2="577" stroke-width="1"/>
<line x1="612.3" y1="541.2" x2="612.3" y2="577" stroke-width="1"/>
<line x1="515.7" y1="555.3" x2="515.7" y2="575.8" stroke-width="1"/>
<line x1="562.2" y1="555.3" x2="562.2" y2="575.6" stroke-width="1"/>
<text x="445.5" y="538.1" font-size="10.5" textLength="11" lengthAdjust="spacingAndGlyphs">50</text>
<text x="511.7" y="538.1" font-size="10.5" textLength="55.7" lengthAdjust="spacingAndGlyphs">(1700)1100</text>
<text x="620.6" y="538.1" font-size="10.5" textLength="11" lengthAdjust="spacingAndGlyphs">50</text>
<text x="428.5" y="552.3" font-size="10.5" textLength="5" lengthAdjust="spacingAndGlyphs">2</text>
<text x="445.7" y="552.3" font-size="10.5" textLength="11" lengthAdjust="spacingAndGlyphs">48</text>
<text x="485" y="552.3" font-size="10.5" textLength="11" lengthAdjust="spacingAndGlyphs">89</text>
<text x="581.9" y="552.3" font-size="10.5" textLength="11" lengthAdjust="spacingAndGlyphs">89</text>
<text x="620.6" y="552.3" font-size="10.5" textLength="11" lengthAdjust="spacingAndGlyphs">48</text>
<text x="643.1" y="552.3" font-size="10.5" textLength="5" lengthAdjust="spacingAndGlyphs">2</text>
<line x1="463.5" y1="569.5" x2="470.9" y2="569.5" stroke-width="1"/>
<line x1="465.1" y1="568" x2="465.1" y2="577.2" stroke-width="1"/>
<line x1="467.9" y1="568" x2="467.9" y2="577.2" stroke-width="1"/>
<rect x="464.2" y="568.3" width="4.6" height="2.2" fill="#000" stroke="none"/>
<text x="466" y="566.6" font-size="10.5" textLength="4.8" lengthAdjust="spacingAndGlyphs">6</text>
<line x1="544" y1="569.5" x2="551.5" y2="569.5" stroke-width="1"/>
<line x1="545.6" y1="568" x2="545.6" y2="577.2" stroke-width="1"/>
<line x1="548.5" y1="568" x2="548.5" y2="577.2" stroke-width="1"/>
<rect x="544.7" y="568.3" width="4.7" height="2.2" fill="#000" stroke="none"/>
<text x="544.2" y="566.6" font-size="10.5" textLength="4.8" lengthAdjust="spacingAndGlyphs">8</text>
<line x1="608.2" y1="569.5" x2="615.6" y2="569.5" stroke-width="1"/>
<line x1="609.8" y1="568" x2="609.8" y2="577.2" stroke-width="1"/>
<line x1="612.6" y1="568" x2="612.6" y2="577.2" stroke-width="1"/>
<rect x="608.9" y="568.3" width="4.6" height="2.2" fill="#000" stroke="none"/>
<text x="606.6" y="566.6" font-size="10.5" textLength="4.8" lengthAdjust="spacingAndGlyphs">6</text>
<line x1="428.6" y1="648.9" x2="648" y2="648.9" stroke-width="1"/>
<circle cx="436.9" cy="648.9" r="1.7" fill="#000" stroke="none" shape-rendering="geometricPrecision"/>
<circle cx="457.9" cy="648.9" r="1.7" fill="#000" stroke="none" shape-rendering="geometricPrecision"/>
<circle cx="538.9" cy="648.9" r="1.7" fill="#000" stroke="none" shape-rendering="geometricPrecision"/>
<circle cx="619.8" cy="648.9" r="1.7" fill="#000" stroke="none" shape-rendering="geometricPrecision"/>
<circle cx="641" cy="648.9" r="1.7" fill="#000" stroke="none" shape-rendering="geometricPrecision"/>
<line x1="436.3" y1="663.6" x2="641.1" y2="663.6" stroke-width="1"/>
<circle cx="436.6" cy="663.6" r="1.7" fill="#000" stroke="none" shape-rendering="geometricPrecision"/>
<circle cx="641" cy="663.6" r="1.7" fill="#000" stroke="none" shape-rendering="geometricPrecision"/>
<text x="430" y="646" font-size="10.5" textLength="5" lengthAdjust="spacingAndGlyphs">2</text>
<text x="441.9" y="646" font-size="10.5" textLength="11" lengthAdjust="spacingAndGlyphs">34</text>
<text x="467" y="646" font-size="10.5" textLength="61.4" lengthAdjust="spacingAndGlyphs">DW=(858)297</text>
<rect x="535.8" y="638" width="6" height="8.6" fill="#fff" stroke="none"/>
<text x="536.4" y="646" font-size="10.5" textLength="4.8" lengthAdjust="spacingAndGlyphs">6</text>
<text x="549.2" y="646" font-size="10.5" textLength="61.3" lengthAdjust="spacingAndGlyphs">DW=(858)819</text>
<text x="624.9" y="646" font-size="10.5" textLength="11" lengthAdjust="spacingAndGlyphs">34</text>
<text x="642.5" y="646" font-size="10.5" textLength="4.8" lengthAdjust="spacingAndGlyphs">2</text>
<text x="455.5" y="658.3" font-size="10.5" textLength="4.8" lengthAdjust="spacingAndGlyphs">3</text>
<text x="617.3" y="658.3" font-size="10.5" textLength="4.8" lengthAdjust="spacingAndGlyphs">3</text>
<text x="512.7" y="660.2" font-size="10.5" textLength="53.6" lengthAdjust="spacingAndGlyphs">(1800)1200</text>
<text x="442.3" y="520.7" font-size="11" textLength="47" lengthAdjust="spacingAndGlyphs">フランス落し</text>
<line x1="442.3" y1="522.8" x2="496.4" y2="522.8" stroke-width="1"/>
<line x1="496.4" y1="522.8" x2="526.4" y2="598.6" stroke-width="1" shape-rendering="geometricPrecision"/>
<path d="M526.4 598.6 L522.57 594.09 L526.11 592.69 Z" fill="#000" stroke-width="0.5" shape-rendering="geometricPrecision"/>
</svg>
</body>
</html>
